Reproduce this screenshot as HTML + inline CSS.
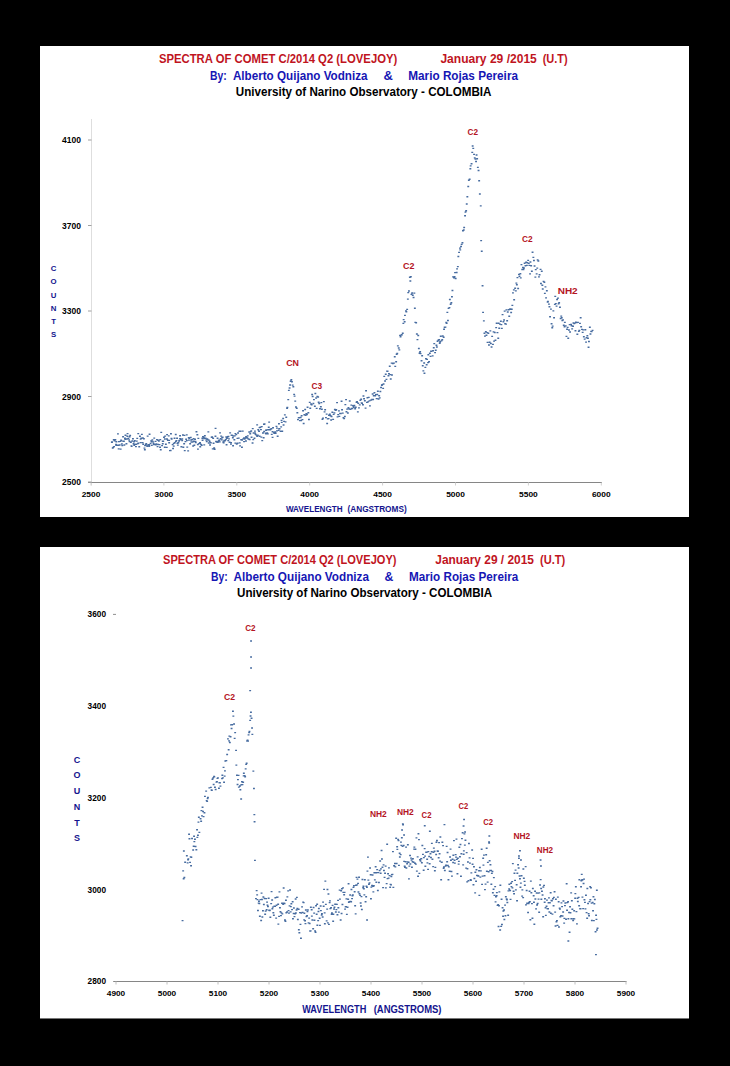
<!DOCTYPE html>
<html><head><meta charset="utf-8"><style>
html,body{margin:0;padding:0;background:#000;width:730px;height:1066px;overflow:hidden}
svg{display:block}
text{font-family:"Liberation Sans",sans-serif}
.t{stroke-width:0.35px}
</style></head><body>
<svg width="730" height="1066" viewBox="0 0 730 1066">
<rect width="730" height="1066" fill="#000"/>
<rect x="40" y="46" width="649" height="471" fill="#fff"/>
<rect x="40" y="547" width="649" height="471" fill="#fff"/>
<rect x="40" y="1018" width="649" height="1" fill="#777"/>
<text x="158.9" y="62.5" font-size="12.2" fill="#c0141e" font-weight="bold" text-anchor="start" textLength="238.4" lengthAdjust="spacingAndGlyphs">SPECTRA OF COMET C/2014 Q2 (LOVEJOY)</text>
<text x="440.4" y="62.5" font-size="12.2" fill="#c0141e" font-weight="bold" text-anchor="start" textLength="96.4" lengthAdjust="spacingAndGlyphs">January 29 /2015</text>
<text x="542.7" y="62.5" font-size="12.2" fill="#c0141e" font-weight="bold" text-anchor="start" textLength="25.0" lengthAdjust="spacingAndGlyphs">(U.T)</text>
<text x="210.0" y="79.7" font-size="12.2" fill="#1616b4" font-weight="bold" text-anchor="start" textLength="16.7" lengthAdjust="spacingAndGlyphs">By:</text>
<text x="232.9" y="79.7" font-size="12.2" fill="#1616b4" font-weight="bold" text-anchor="start" textLength="134.6" lengthAdjust="spacingAndGlyphs">Alberto Quijano Vodniza</text>
<text x="383.6" y="79.7" font-size="12.2" fill="#1616b4" font-weight="bold" text-anchor="start" textLength="9.4" lengthAdjust="spacingAndGlyphs">&amp;</text>
<text x="408.3" y="79.7" font-size="12.2" fill="#1616b4" font-weight="bold" text-anchor="start" textLength="109.7" lengthAdjust="spacingAndGlyphs">Mario Rojas Pereira</text>
<text x="235.8" y="96.0" font-size="12.2" fill="#000" font-weight="bold" text-anchor="start" textLength="255.6" lengthAdjust="spacingAndGlyphs">University of Narino Observatory - COLOMBIA</text>
<line x1="91.5" y1="119" x2="91.5" y2="485.5" stroke="#dedede" stroke-width="1"/>
<line x1="88" y1="482.5" x2="602" y2="482.5" stroke="#868686" stroke-width="1"/>
<line x1="88" y1="140.0" x2="91.5" y2="140.0" stroke="#a0a0a0" stroke-width="1"/>
<text x="81.0" y="143.0" font-size="8.5" fill="#000" font-weight="bold" text-anchor="end" textLength="18.9" lengthAdjust="spacingAndGlyphs">4100</text>
<line x1="88" y1="225.5" x2="91.5" y2="225.5" stroke="#a0a0a0" stroke-width="1"/>
<text x="81.0" y="228.5" font-size="8.5" fill="#000" font-weight="bold" text-anchor="end" textLength="18.9" lengthAdjust="spacingAndGlyphs">3700</text>
<line x1="88" y1="311.0" x2="91.5" y2="311.0" stroke="#a0a0a0" stroke-width="1"/>
<text x="81.0" y="314.0" font-size="8.5" fill="#000" font-weight="bold" text-anchor="end" textLength="18.9" lengthAdjust="spacingAndGlyphs">3300</text>
<line x1="88" y1="396.5" x2="91.5" y2="396.5" stroke="#a0a0a0" stroke-width="1"/>
<text x="81.0" y="399.5" font-size="8.5" fill="#000" font-weight="bold" text-anchor="end" textLength="18.9" lengthAdjust="spacingAndGlyphs">2900</text>
<line x1="88" y1="482.0" x2="91.5" y2="482.0" stroke="#a0a0a0" stroke-width="1"/>
<text x="81.0" y="485.0" font-size="8.5" fill="#000" font-weight="bold" text-anchor="end" textLength="18.9" lengthAdjust="spacingAndGlyphs">2500</text>
<line x1="91.0" y1="482.5" x2="91.0" y2="485.5" stroke="#d0d0d0" stroke-width="1"/>
<text x="91.0" y="496.8" font-size="8.0" fill="#000" font-weight="bold" text-anchor="middle" textLength="18.7" lengthAdjust="spacingAndGlyphs">2500</text>
<line x1="163.9" y1="482.5" x2="163.9" y2="485.5" stroke="#d0d0d0" stroke-width="1"/>
<text x="163.9" y="496.8" font-size="8.0" fill="#000" font-weight="bold" text-anchor="middle" textLength="18.7" lengthAdjust="spacingAndGlyphs">3000</text>
<line x1="236.8" y1="482.5" x2="236.8" y2="485.5" stroke="#d0d0d0" stroke-width="1"/>
<text x="236.8" y="496.8" font-size="8.0" fill="#000" font-weight="bold" text-anchor="middle" textLength="18.7" lengthAdjust="spacingAndGlyphs">3500</text>
<line x1="309.7" y1="482.5" x2="309.7" y2="485.5" stroke="#d0d0d0" stroke-width="1"/>
<text x="309.7" y="496.8" font-size="8.0" fill="#000" font-weight="bold" text-anchor="middle" textLength="18.7" lengthAdjust="spacingAndGlyphs">4000</text>
<line x1="382.6" y1="482.5" x2="382.6" y2="485.5" stroke="#d0d0d0" stroke-width="1"/>
<text x="382.6" y="496.8" font-size="8.0" fill="#000" font-weight="bold" text-anchor="middle" textLength="18.7" lengthAdjust="spacingAndGlyphs">4500</text>
<line x1="455.5" y1="482.5" x2="455.5" y2="485.5" stroke="#d0d0d0" stroke-width="1"/>
<text x="455.5" y="496.8" font-size="8.0" fill="#000" font-weight="bold" text-anchor="middle" textLength="18.7" lengthAdjust="spacingAndGlyphs">5000</text>
<line x1="528.4" y1="482.5" x2="528.4" y2="485.5" stroke="#d0d0d0" stroke-width="1"/>
<text x="528.4" y="496.8" font-size="8.0" fill="#000" font-weight="bold" text-anchor="middle" textLength="18.7" lengthAdjust="spacingAndGlyphs">5500</text>
<line x1="601.3" y1="482.5" x2="601.3" y2="485.5" stroke="#d0d0d0" stroke-width="1"/>
<text x="601.3" y="496.8" font-size="8.0" fill="#000" font-weight="bold" text-anchor="middle" textLength="18.7" lengthAdjust="spacingAndGlyphs">6000</text>
<text x="285.9" y="512.0" font-size="8.6" fill="#14148e" font-weight="bold" text-anchor="start" textLength="56.7" lengthAdjust="spacingAndGlyphs">WAVELENGTH</text>
<text x="347.5" y="512.0" font-size="8.6" fill="#14148e" font-weight="bold" text-anchor="start" textLength="59.2" lengthAdjust="spacingAndGlyphs">(ANGSTROMS)</text>
<text x="53.6" y="271.1" font-size="7.8" fill="#14148e" font-weight="bold" text-anchor="middle">C</text>
<text x="53.6" y="284.3" font-size="7.8" fill="#14148e" font-weight="bold" text-anchor="middle">O</text>
<text x="53.6" y="297.5" font-size="7.8" fill="#14148e" font-weight="bold" text-anchor="middle">U</text>
<text x="53.6" y="310.7" font-size="7.8" fill="#14148e" font-weight="bold" text-anchor="middle">N</text>
<text x="53.6" y="323.9" font-size="7.8" fill="#14148e" font-weight="bold" text-anchor="middle">T</text>
<text x="53.6" y="337.1" font-size="7.8" fill="#14148e" font-weight="bold" text-anchor="middle">S</text>
<text x="286.2" y="366.0" font-size="9.9" fill="#b41424" font-weight="bold" text-anchor="start" textLength="12.8" lengthAdjust="spacingAndGlyphs">CN</text>
<text x="311.4" y="389.3" font-size="9.9" fill="#b41424" font-weight="bold" text-anchor="start" textLength="10.6" lengthAdjust="spacingAndGlyphs">C3</text>
<text x="403.0" y="268.9" font-size="9.9" fill="#b41424" font-weight="bold" text-anchor="start" textLength="11.4" lengthAdjust="spacingAndGlyphs">C2</text>
<text x="467.5" y="135.0" font-size="9.9" fill="#b41424" font-weight="bold" text-anchor="start" textLength="10.5" lengthAdjust="spacingAndGlyphs">C2</text>
<text x="521.9" y="242.0" font-size="9.9" fill="#b41424" font-weight="bold" text-anchor="start" textLength="10.6" lengthAdjust="spacingAndGlyphs">C2</text>
<text x="557.7" y="293.9" font-size="9.9" fill="#b41424" font-weight="bold" text-anchor="start" textLength="20.0" lengthAdjust="spacingAndGlyphs">NH2</text>
<path d="M110.9 441.5h1.9v1.4h-1.9zM111.8 447.3h1.9v1.4h-1.9zM112.3 446.7h1.9v1.4h-1.9zM112.8 439.1h1.9v1.4h-1.9zM113.6 440.0h1.9v1.4h-1.9zM114.4 439.0h1.9v1.4h-1.9zM115.1 443.8h1.9v1.4h-1.9zM115.4 441.1h1.9v1.4h-1.9zM116.1 444.6h1.9v1.4h-1.9zM117.0 433.2h1.9v1.4h-1.9zM117.7 448.2h1.9v1.4h-1.9zM118.0 440.9h1.9v1.4h-1.9zM118.7 444.3h1.9v1.4h-1.9zM119.6 440.7h1.9v1.4h-1.9zM120.2 439.6h1.9v1.4h-1.9zM120.9 443.3h1.9v1.4h-1.9zM121.3 444.9h1.9v1.4h-1.9zM122.1 440.4h1.9v1.4h-1.9zM122.9 440.6h1.9v1.4h-1.9zM123.4 444.3h1.9v1.4h-1.9zM124.0 437.5h1.9v1.4h-1.9zM124.5 434.6h1.9v1.4h-1.9zM125.5 443.0h1.9v1.4h-1.9zM126.0 438.3h1.9v1.4h-1.9zM126.6 432.9h1.9v1.4h-1.9zM127.4 437.7h1.9v1.4h-1.9zM128.1 439.2h1.9v1.4h-1.9zM128.7 436.0h1.9v1.4h-1.9zM129.2 434.7h1.9v1.4h-1.9zM129.9 441.5h1.9v1.4h-1.9zM130.5 445.2h1.9v1.4h-1.9zM131.3 440.3h1.9v1.4h-1.9zM132.0 438.0h1.9v1.4h-1.9zM132.6 443.0h1.9v1.4h-1.9zM133.3 444.5h1.9v1.4h-1.9zM133.8 440.0h1.9v1.4h-1.9zM134.5 443.7h1.9v1.4h-1.9zM135.0 445.9h1.9v1.4h-1.9zM135.8 440.4h1.9v1.4h-1.9zM136.3 437.7h1.9v1.4h-1.9zM137.1 442.8h1.9v1.4h-1.9zM137.5 442.4h1.9v1.4h-1.9zM138.3 446.1h1.9v1.4h-1.9zM139.0 435.6h1.9v1.4h-1.9zM139.7 438.4h1.9v1.4h-1.9zM140.3 437.6h1.9v1.4h-1.9zM140.9 433.7h1.9v1.4h-1.9zM141.7 441.9h1.9v1.4h-1.9zM142.3 443.6h1.9v1.4h-1.9zM142.9 438.0h1.9v1.4h-1.9zM143.5 447.4h1.9v1.4h-1.9zM144.1 444.9h1.9v1.4h-1.9zM144.9 444.1h1.9v1.4h-1.9zM145.3 443.1h1.9v1.4h-1.9zM146.3 445.5h1.9v1.4h-1.9zM146.7 435.4h1.9v1.4h-1.9zM147.4 444.0h1.9v1.4h-1.9zM148.1 444.0h1.9v1.4h-1.9zM148.6 433.5h1.9v1.4h-1.9zM149.6 442.8h1.9v1.4h-1.9zM150.2 440.2h1.9v1.4h-1.9zM150.8 444.7h1.9v1.4h-1.9zM151.4 439.3h1.9v1.4h-1.9zM152.2 441.2h1.9v1.4h-1.9zM152.6 442.7h1.9v1.4h-1.9zM153.3 437.4h1.9v1.4h-1.9zM153.8 443.8h1.9v1.4h-1.9zM154.6 440.7h1.9v1.4h-1.9zM155.4 443.3h1.9v1.4h-1.9zM156.0 438.9h1.9v1.4h-1.9zM156.6 445.9h1.9v1.4h-1.9zM157.2 443.8h1.9v1.4h-1.9zM157.9 440.3h1.9v1.4h-1.9zM158.5 443.9h1.9v1.4h-1.9zM159.1 446.6h1.9v1.4h-1.9zM159.8 449.0h1.9v1.4h-1.9zM160.3 431.7h1.9v1.4h-1.9zM161.1 444.9h1.9v1.4h-1.9zM161.8 443.1h1.9v1.4h-1.9zM162.3 440.6h1.9v1.4h-1.9zM163.0 436.6h1.9v1.4h-1.9zM163.8 446.5h1.9v1.4h-1.9zM164.2 435.4h1.9v1.4h-1.9zM164.9 443.5h1.9v1.4h-1.9zM165.8 446.7h1.9v1.4h-1.9zM166.1 433.9h1.9v1.4h-1.9zM166.9 439.6h1.9v1.4h-1.9zM167.8 435.2h1.9v1.4h-1.9zM168.2 442.0h1.9v1.4h-1.9zM169.0 449.9h1.9v1.4h-1.9zM169.7 449.8h1.9v1.4h-1.9zM170.0 433.1h1.9v1.4h-1.9zM170.7 438.3h1.9v1.4h-1.9zM171.7 443.9h1.9v1.4h-1.9zM172.1 447.8h1.9v1.4h-1.9zM172.8 442.7h1.9v1.4h-1.9zM173.6 437.5h1.9v1.4h-1.9zM173.9 442.1h1.9v1.4h-1.9zM174.9 440.7h1.9v1.4h-1.9zM175.5 439.9h1.9v1.4h-1.9zM176.1 437.5h1.9v1.4h-1.9zM176.5 442.5h1.9v1.4h-1.9zM177.4 442.1h1.9v1.4h-1.9zM178.1 440.3h1.9v1.4h-1.9zM178.6 439.7h1.9v1.4h-1.9zM179.1 435.0h1.9v1.4h-1.9zM179.8 438.5h1.9v1.4h-1.9zM180.4 446.0h1.9v1.4h-1.9zM181.2 439.8h1.9v1.4h-1.9zM182.0 434.3h1.9v1.4h-1.9zM182.4 446.5h1.9v1.4h-1.9zM183.2 443.0h1.9v1.4h-1.9zM183.8 449.9h1.9v1.4h-1.9zM184.5 440.9h1.9v1.4h-1.9zM185.2 438.5h1.9v1.4h-1.9zM185.8 434.2h1.9v1.4h-1.9zM186.3 446.4h1.9v1.4h-1.9zM187.2 450.2h1.9v1.4h-1.9zM187.8 436.9h1.9v1.4h-1.9zM188.3 437.7h1.9v1.4h-1.9zM189.2 443.1h1.9v1.4h-1.9zM189.8 436.8h1.9v1.4h-1.9zM190.2 439.3h1.9v1.4h-1.9zM191.2 438.9h1.9v1.4h-1.9zM191.7 441.3h1.9v1.4h-1.9zM192.2 445.3h1.9v1.4h-1.9zM192.8 440.6h1.9v1.4h-1.9zM193.4 444.5h1.9v1.4h-1.9zM194.1 438.5h1.9v1.4h-1.9zM194.8 441.8h1.9v1.4h-1.9zM195.5 431.0h1.9v1.4h-1.9zM196.4 434.0h1.9v1.4h-1.9zM196.9 443.8h1.9v1.4h-1.9zM197.4 437.7h1.9v1.4h-1.9zM198.1 442.9h1.9v1.4h-1.9zM198.8 442.7h1.9v1.4h-1.9zM199.3 446.1h1.9v1.4h-1.9zM200.1 443.8h1.9v1.4h-1.9zM200.8 444.6h1.9v1.4h-1.9zM201.6 439.6h1.9v1.4h-1.9zM202.0 435.9h1.9v1.4h-1.9zM202.8 436.8h1.9v1.4h-1.9zM203.4 437.8h1.9v1.4h-1.9zM203.9 435.0h1.9v1.4h-1.9zM204.7 437.5h1.9v1.4h-1.9zM205.3 439.4h1.9v1.4h-1.9zM205.8 440.9h1.9v1.4h-1.9zM206.4 438.2h1.9v1.4h-1.9zM207.4 431.2h1.9v1.4h-1.9zM207.7 439.3h1.9v1.4h-1.9zM208.7 440.6h1.9v1.4h-1.9zM209.1 444.3h1.9v1.4h-1.9zM209.7 442.0h1.9v1.4h-1.9zM210.7 436.6h1.9v1.4h-1.9zM211.2 436.2h1.9v1.4h-1.9zM211.8 448.2h1.9v1.4h-1.9zM212.6 442.6h1.9v1.4h-1.9zM213.2 447.3h1.9v1.4h-1.9zM213.7 448.6h1.9v1.4h-1.9zM214.5 435.5h1.9v1.4h-1.9zM215.1 440.8h1.9v1.4h-1.9zM215.6 441.1h1.9v1.4h-1.9zM216.4 441.5h1.9v1.4h-1.9zM217.2 441.3h1.9v1.4h-1.9zM217.7 439.8h1.9v1.4h-1.9zM218.4 439.6h1.9v1.4h-1.9zM219.1 432.2h1.9v1.4h-1.9zM219.7 438.0h1.9v1.4h-1.9zM220.2 435.4h1.9v1.4h-1.9zM220.9 439.2h1.9v1.4h-1.9zM221.7 436.6h1.9v1.4h-1.9zM222.3 441.3h1.9v1.4h-1.9zM222.7 442.1h1.9v1.4h-1.9zM223.3 439.8h1.9v1.4h-1.9zM224.1 439.8h1.9v1.4h-1.9zM224.9 438.8h1.9v1.4h-1.9zM225.3 436.3h1.9v1.4h-1.9zM226.0 437.5h1.9v1.4h-1.9zM226.9 436.0h1.9v1.4h-1.9zM227.3 439.9h1.9v1.4h-1.9zM228.0 438.2h1.9v1.4h-1.9zM228.6 441.5h1.9v1.4h-1.9zM229.2 432.2h1.9v1.4h-1.9zM230.1 441.9h1.9v1.4h-1.9zM230.6 434.6h1.9v1.4h-1.9zM231.3 434.7h1.9v1.4h-1.9zM231.9 437.0h1.9v1.4h-1.9zM232.4 435.3h1.9v1.4h-1.9zM233.4 439.0h1.9v1.4h-1.9zM233.8 435.2h1.9v1.4h-1.9zM234.5 432.9h1.9v1.4h-1.9zM235.3 433.9h1.9v1.4h-1.9zM235.8 443.3h1.9v1.4h-1.9zM236.5 437.7h1.9v1.4h-1.9zM237.1 432.3h1.9v1.4h-1.9zM237.8 437.4h1.9v1.4h-1.9zM238.4 430.5h1.9v1.4h-1.9zM239.1 445.2h1.9v1.4h-1.9zM239.6 430.5h1.9v1.4h-1.9zM240.2 439.1h1.9v1.4h-1.9zM241.1 439.3h1.9v1.4h-1.9zM241.8 430.4h1.9v1.4h-1.9zM242.5 438.0h1.9v1.4h-1.9zM243.1 440.9h1.9v1.4h-1.9zM243.7 438.4h1.9v1.4h-1.9zM244.4 437.4h1.9v1.4h-1.9zM245.0 440.3h1.9v1.4h-1.9zM245.7 436.7h1.9v1.4h-1.9zM246.4 437.3h1.9v1.4h-1.9zM246.8 435.2h1.9v1.4h-1.9zM247.5 438.4h1.9v1.4h-1.9zM248.3 431.3h1.9v1.4h-1.9zM248.7 438.8h1.9v1.4h-1.9zM249.3 433.0h1.9v1.4h-1.9zM250.3 430.3h1.9v1.4h-1.9zM250.6 436.6h1.9v1.4h-1.9zM251.6 442.3h1.9v1.4h-1.9zM252.3 438.9h1.9v1.4h-1.9zM252.6 432.3h1.9v1.4h-1.9zM253.5 437.5h1.9v1.4h-1.9zM254.0 432.3h1.9v1.4h-1.9zM254.6 433.6h1.9v1.4h-1.9zM255.5 434.4h1.9v1.4h-1.9zM256.2 424.2h1.9v1.4h-1.9zM256.8 434.6h1.9v1.4h-1.9zM257.3 429.1h1.9v1.4h-1.9zM258.1 430.5h1.9v1.4h-1.9zM258.6 426.9h1.9v1.4h-1.9zM259.4 426.6h1.9v1.4h-1.9zM260.0 428.9h1.9v1.4h-1.9zM260.4 436.4h1.9v1.4h-1.9zM261.3 439.9h1.9v1.4h-1.9zM262.0 432.3h1.9v1.4h-1.9zM262.7 437.0h1.9v1.4h-1.9zM263.2 430.8h1.9v1.4h-1.9zM263.6 423.3h1.9v1.4h-1.9zM264.6 432.4h1.9v1.4h-1.9zM265.1 433.2h1.9v1.4h-1.9zM265.6 429.2h1.9v1.4h-1.9zM266.3 432.2h1.9v1.4h-1.9zM266.9 433.2h1.9v1.4h-1.9zM267.8 426.6h1.9v1.4h-1.9zM268.2 421.4h1.9v1.4h-1.9zM269.2 429.0h1.9v1.4h-1.9zM269.5 428.8h1.9v1.4h-1.9zM270.4 428.0h1.9v1.4h-1.9zM270.8 433.7h1.9v1.4h-1.9zM271.6 436.7h1.9v1.4h-1.9zM272.1 427.1h1.9v1.4h-1.9zM273.1 431.8h1.9v1.4h-1.9zM273.4 432.6h1.9v1.4h-1.9zM274.2 431.3h1.9v1.4h-1.9zM274.9 432.4h1.9v1.4h-1.9zM275.5 425.7h1.9v1.4h-1.9zM276.0 430.2h1.9v1.4h-1.9zM276.7 435.5h1.9v1.4h-1.9zM277.6 429.7h1.9v1.4h-1.9zM278.0 423.0h1.9v1.4h-1.9zM278.6 428.0h1.9v1.4h-1.9zM279.6 430.5h1.9v1.4h-1.9zM280.2 426.2h1.9v1.4h-1.9zM280.8 421.7h1.9v1.4h-1.9zM281.3 430.5h1.9v1.4h-1.9zM282.2 417.8h1.9v1.4h-1.9zM282.6 424.3h1.9v1.4h-1.9zM283.1 420.7h1.9v1.4h-1.9zM283.9 414.2h1.9v1.4h-1.9zM284.6 421.2h1.9v1.4h-1.9zM285.3 416.6h1.9v1.4h-1.9zM286.1 407.6h1.9v1.4h-1.9zM286.4 406.8h1.9v1.4h-1.9zM287.3 398.9h1.9v1.4h-1.9zM287.9 389.7h1.9v1.4h-1.9zM288.6 387.3h1.9v1.4h-1.9zM289.1 384.3h1.9v1.4h-1.9zM289.7 380.6h1.9v1.4h-1.9zM290.4 379.1h1.9v1.4h-1.9zM291.0 381.1h1.9v1.4h-1.9zM291.7 384.4h1.9v1.4h-1.9zM292.4 386.0h1.9v1.4h-1.9zM293.2 393.7h1.9v1.4h-1.9zM293.6 395.4h1.9v1.4h-1.9zM294.3 400.4h1.9v1.4h-1.9zM295.0 406.3h1.9v1.4h-1.9zM295.8 407.5h1.9v1.4h-1.9zM296.4 412.0h1.9v1.4h-1.9zM297.0 418.9h1.9v1.4h-1.9zM297.7 417.2h1.9v1.4h-1.9zM298.2 417.0h1.9v1.4h-1.9zM299.0 419.9h1.9v1.4h-1.9zM299.7 416.8h1.9v1.4h-1.9zM300.2 419.8h1.9v1.4h-1.9zM300.7 415.1h1.9v1.4h-1.9zM301.5 418.9h1.9v1.4h-1.9zM302.1 410.1h1.9v1.4h-1.9zM302.7 422.8h1.9v1.4h-1.9zM303.4 414.1h1.9v1.4h-1.9zM304.2 408.8h1.9v1.4h-1.9zM304.7 414.5h1.9v1.4h-1.9zM305.4 412.9h1.9v1.4h-1.9zM306.0 413.8h1.9v1.4h-1.9zM306.6 406.6h1.9v1.4h-1.9zM307.4 412.1h1.9v1.4h-1.9zM308.0 418.8h1.9v1.4h-1.9zM308.8 401.7h1.9v1.4h-1.9zM309.3 407.6h1.9v1.4h-1.9zM310.1 403.3h1.9v1.4h-1.9zM310.7 404.1h1.9v1.4h-1.9zM311.2 393.8h1.9v1.4h-1.9zM311.7 395.8h1.9v1.4h-1.9zM312.4 402.8h1.9v1.4h-1.9zM313.0 398.9h1.9v1.4h-1.9zM313.9 405.5h1.9v1.4h-1.9zM314.4 392.8h1.9v1.4h-1.9zM315.2 397.3h1.9v1.4h-1.9zM315.7 407.7h1.9v1.4h-1.9zM316.4 395.7h1.9v1.4h-1.9zM317.2 396.3h1.9v1.4h-1.9zM317.7 401.5h1.9v1.4h-1.9zM318.3 402.8h1.9v1.4h-1.9zM319.0 408.1h1.9v1.4h-1.9zM319.9 406.0h1.9v1.4h-1.9zM320.4 401.9h1.9v1.4h-1.9zM320.9 408.5h1.9v1.4h-1.9zM321.5 418.5h1.9v1.4h-1.9zM322.1 417.4h1.9v1.4h-1.9zM322.9 400.9h1.9v1.4h-1.9zM323.6 411.2h1.9v1.4h-1.9zM324.2 409.0h1.9v1.4h-1.9zM325.0 416.9h1.9v1.4h-1.9zM325.7 413.4h1.9v1.4h-1.9zM326.2 422.8h1.9v1.4h-1.9zM326.8 418.2h1.9v1.4h-1.9zM327.6 417.9h1.9v1.4h-1.9zM328.0 414.6h1.9v1.4h-1.9zM328.9 413.5h1.9v1.4h-1.9zM329.6 415.1h1.9v1.4h-1.9zM330.2 419.3h1.9v1.4h-1.9zM330.6 415.8h1.9v1.4h-1.9zM331.4 411.6h1.9v1.4h-1.9zM332.2 418.7h1.9v1.4h-1.9zM332.7 413.7h1.9v1.4h-1.9zM333.5 412.2h1.9v1.4h-1.9zM333.9 408.8h1.9v1.4h-1.9zM334.7 409.6h1.9v1.4h-1.9zM335.3 409.1h1.9v1.4h-1.9zM336.1 401.9h1.9v1.4h-1.9zM336.6 416.2h1.9v1.4h-1.9zM337.2 413.9h1.9v1.4h-1.9zM338.0 410.2h1.9v1.4h-1.9zM338.4 415.7h1.9v1.4h-1.9zM339.1 412.8h1.9v1.4h-1.9zM339.8 412.8h1.9v1.4h-1.9zM340.6 400.5h1.9v1.4h-1.9zM341.1 409.1h1.9v1.4h-1.9zM341.8 412.4h1.9v1.4h-1.9zM342.5 417.0h1.9v1.4h-1.9zM343.2 417.9h1.9v1.4h-1.9zM343.9 415.8h1.9v1.4h-1.9zM344.4 403.9h1.9v1.4h-1.9zM345.1 398.9h1.9v1.4h-1.9zM345.5 411.1h1.9v1.4h-1.9zM346.2 408.4h1.9v1.4h-1.9zM346.9 412.3h1.9v1.4h-1.9zM347.5 407.1h1.9v1.4h-1.9zM348.3 408.3h1.9v1.4h-1.9zM348.8 400.3h1.9v1.4h-1.9zM349.6 408.7h1.9v1.4h-1.9zM350.4 404.4h1.9v1.4h-1.9zM350.7 407.7h1.9v1.4h-1.9zM351.4 407.9h1.9v1.4h-1.9zM352.2 405.0h1.9v1.4h-1.9zM352.7 406.6h1.9v1.4h-1.9zM353.4 404.8h1.9v1.4h-1.9zM354.2 408.0h1.9v1.4h-1.9zM354.8 406.5h1.9v1.4h-1.9zM355.6 401.5h1.9v1.4h-1.9zM356.1 401.0h1.9v1.4h-1.9zM356.9 411.2h1.9v1.4h-1.9zM357.3 402.6h1.9v1.4h-1.9zM358.0 407.2h1.9v1.4h-1.9zM358.8 404.2h1.9v1.4h-1.9zM359.4 399.6h1.9v1.4h-1.9zM360.2 398.6h1.9v1.4h-1.9zM360.6 402.2h1.9v1.4h-1.9zM361.1 402.6h1.9v1.4h-1.9zM362.0 404.0h1.9v1.4h-1.9zM362.5 395.3h1.9v1.4h-1.9zM363.1 398.0h1.9v1.4h-1.9zM363.9 400.1h1.9v1.4h-1.9zM364.6 407.4h1.9v1.4h-1.9zM365.1 390.1h1.9v1.4h-1.9zM366.0 401.7h1.9v1.4h-1.9zM366.5 397.1h1.9v1.4h-1.9zM367.1 401.2h1.9v1.4h-1.9zM367.8 396.7h1.9v1.4h-1.9zM368.5 400.2h1.9v1.4h-1.9zM369.0 405.2h1.9v1.4h-1.9zM369.8 399.4h1.9v1.4h-1.9zM370.3 399.4h1.9v1.4h-1.9zM371.2 398.8h1.9v1.4h-1.9zM371.7 393.3h1.9v1.4h-1.9zM372.2 398.8h1.9v1.4h-1.9zM372.8 395.1h1.9v1.4h-1.9zM373.5 392.0h1.9v1.4h-1.9zM374.2 395.1h1.9v1.4h-1.9zM375.0 393.9h1.9v1.4h-1.9zM375.7 397.9h1.9v1.4h-1.9zM376.3 393.8h1.9v1.4h-1.9zM376.9 390.5h1.9v1.4h-1.9zM377.6 398.3h1.9v1.4h-1.9zM378.2 395.1h1.9v1.4h-1.9zM378.8 397.2h1.9v1.4h-1.9zM379.4 390.8h1.9v1.4h-1.9zM380.1 386.8h1.9v1.4h-1.9zM380.9 384.5h1.9v1.4h-1.9zM381.3 383.9h1.9v1.4h-1.9zM382.2 387.7h1.9v1.4h-1.9zM382.6 383.3h1.9v1.4h-1.9zM383.3 375.7h1.9v1.4h-1.9zM384.1 380.3h1.9v1.4h-1.9zM384.8 373.6h1.9v1.4h-1.9zM385.5 378.7h1.9v1.4h-1.9zM386.1 370.4h1.9v1.4h-1.9zM386.6 370.6h1.9v1.4h-1.9zM387.5 375.0h1.9v1.4h-1.9zM388.0 373.0h1.9v1.4h-1.9zM388.8 365.5h1.9v1.4h-1.9zM389.4 373.9h1.9v1.4h-1.9zM389.8 378.3h1.9v1.4h-1.9zM390.7 362.4h1.9v1.4h-1.9zM391.0 374.3h1.9v1.4h-1.9zM391.9 362.9h1.9v1.4h-1.9zM392.4 362.4h1.9v1.4h-1.9zM393.0 362.4h1.9v1.4h-1.9zM393.8 356.0h1.9v1.4h-1.9zM394.3 365.7h1.9v1.4h-1.9zM395.2 361.1h1.9v1.4h-1.9zM395.7 353.5h1.9v1.4h-1.9zM396.3 352.8h1.9v1.4h-1.9zM396.9 345.2h1.9v1.4h-1.9zM397.8 347.3h1.9v1.4h-1.9zM398.4 349.2h1.9v1.4h-1.9zM399.1 334.7h1.9v1.4h-1.9zM399.6 336.0h1.9v1.4h-1.9zM400.5 334.4h1.9v1.4h-1.9zM400.8 334.1h1.9v1.4h-1.9zM401.8 332.5h1.9v1.4h-1.9zM402.4 322.7h1.9v1.4h-1.9zM402.7 318.9h1.9v1.4h-1.9zM403.7 321.1h1.9v1.4h-1.9zM404.0 314.7h1.9v1.4h-1.9zM405.0 310.2h1.9v1.4h-1.9zM405.4 311.0h1.9v1.4h-1.9zM406.2 308.7h1.9v1.4h-1.9zM406.9 298.4h1.9v1.4h-1.9zM407.3 291.9h1.9v1.4h-1.9zM408.0 290.3h1.9v1.4h-1.9zM408.9 276.6h1.9v1.4h-1.9zM409.4 280.3h1.9v1.4h-1.9zM409.9 276.1h1.9v1.4h-1.9zM410.5 293.7h1.9v1.4h-1.9zM411.2 292.3h1.9v1.4h-1.9zM411.8 294.5h1.9v1.4h-1.9zM412.6 296.8h1.9v1.4h-1.9zM413.4 292.4h1.9v1.4h-1.9zM413.9 307.6h1.9v1.4h-1.9zM414.4 321.7h1.9v1.4h-1.9zM415.2 322.1h1.9v1.4h-1.9zM415.9 333.3h1.9v1.4h-1.9zM416.5 338.9h1.9v1.4h-1.9zM417.3 334.8h1.9v1.4h-1.9zM417.9 347.8h1.9v1.4h-1.9zM418.6 352.5h1.9v1.4h-1.9zM419.2 351.0h1.9v1.4h-1.9zM419.6 352.9h1.9v1.4h-1.9zM420.6 360.1h1.9v1.4h-1.9zM421.2 355.1h1.9v1.4h-1.9zM421.8 365.1h1.9v1.4h-1.9zM422.4 370.2h1.9v1.4h-1.9zM423.2 362.3h1.9v1.4h-1.9zM423.5 372.6h1.9v1.4h-1.9zM424.4 366.7h1.9v1.4h-1.9zM425.0 358.1h1.9v1.4h-1.9zM425.7 364.1h1.9v1.4h-1.9zM426.1 358.7h1.9v1.4h-1.9zM427.1 361.9h1.9v1.4h-1.9zM427.4 354.0h1.9v1.4h-1.9zM428.1 361.1h1.9v1.4h-1.9zM428.9 352.6h1.9v1.4h-1.9zM429.6 355.7h1.9v1.4h-1.9zM430.1 350.6h1.9v1.4h-1.9zM430.8 350.4h1.9v1.4h-1.9zM431.7 355.2h1.9v1.4h-1.9zM432.1 350.1h1.9v1.4h-1.9zM432.8 347.0h1.9v1.4h-1.9zM433.3 342.9h1.9v1.4h-1.9zM434.1 351.9h1.9v1.4h-1.9zM434.8 349.5h1.9v1.4h-1.9zM435.5 344.6h1.9v1.4h-1.9zM435.9 346.3h1.9v1.4h-1.9zM436.6 340.5h1.9v1.4h-1.9zM437.4 339.6h1.9v1.4h-1.9zM438.2 339.1h1.9v1.4h-1.9zM438.8 342.5h1.9v1.4h-1.9zM439.2 341.0h1.9v1.4h-1.9zM439.8 335.5h1.9v1.4h-1.9zM440.5 340.2h1.9v1.4h-1.9zM441.3 339.0h1.9v1.4h-1.9zM441.8 335.3h1.9v1.4h-1.9zM442.7 336.5h1.9v1.4h-1.9zM443.1 328.6h1.9v1.4h-1.9zM443.7 326.6h1.9v1.4h-1.9zM444.5 326.4h1.9v1.4h-1.9zM445.3 321.8h1.9v1.4h-1.9zM445.7 322.5h1.9v1.4h-1.9zM446.4 311.7h1.9v1.4h-1.9zM447.0 319.8h1.9v1.4h-1.9zM447.6 307.7h1.9v1.4h-1.9zM448.5 306.9h1.9v1.4h-1.9zM448.9 298.8h1.9v1.4h-1.9zM449.7 303.5h1.9v1.4h-1.9zM450.4 302.0h1.9v1.4h-1.9zM451.0 296.0h1.9v1.4h-1.9zM451.5 289.8h1.9v1.4h-1.9zM452.1 276.2h1.9v1.4h-1.9zM453.0 277.0h1.9v1.4h-1.9zM453.6 276.0h1.9v1.4h-1.9zM454.1 271.9h1.9v1.4h-1.9zM454.7 277.8h1.9v1.4h-1.9zM455.7 271.8h1.9v1.4h-1.9zM456.1 268.2h1.9v1.4h-1.9zM456.9 265.9h1.9v1.4h-1.9zM457.4 255.8h1.9v1.4h-1.9zM458.1 251.7h1.9v1.4h-1.9zM459.0 247.4h1.9v1.4h-1.9zM459.3 249.2h1.9v1.4h-1.9zM460.1 245.8h1.9v1.4h-1.9zM460.7 243.7h1.9v1.4h-1.9zM461.5 242.1h1.9v1.4h-1.9zM462.0 230.0h1.9v1.4h-1.9zM462.8 229.3h1.9v1.4h-1.9zM463.2 226.8h1.9v1.4h-1.9zM464.1 215.1h1.9v1.4h-1.9zM464.5 211.4h1.9v1.4h-1.9zM465.2 210.1h1.9v1.4h-1.9zM465.8 203.3h1.9v1.4h-1.9zM466.4 196.0h1.9v1.4h-1.9zM467.3 185.8h1.9v1.4h-1.9zM467.9 179.5h1.9v1.4h-1.9zM468.7 178.6h1.9v1.4h-1.9zM469.4 168.1h1.9v1.4h-1.9zM469.7 165.2h1.9v1.4h-1.9zM470.6 163.1h1.9v1.4h-1.9zM471.3 151.7h1.9v1.4h-1.9zM471.7 145.3h1.9v1.4h-1.9zM472.3 147.7h1.9v1.4h-1.9zM473.1 153.7h1.9v1.4h-1.9zM473.8 157.2h1.9v1.4h-1.9zM474.5 158.4h1.9v1.4h-1.9zM475.1 160.8h1.9v1.4h-1.9zM475.6 154.3h1.9v1.4h-1.9zM476.2 158.0h1.9v1.4h-1.9zM476.9 166.7h1.9v1.4h-1.9zM477.6 169.8h1.9v1.4h-1.9zM478.2 180.1h1.9v1.4h-1.9zM478.9 193.3h1.9v1.4h-1.9zM479.8 205.2h1.9v1.4h-1.9zM480.2 239.9h1.9v1.4h-1.9zM480.8 250.6h1.9v1.4h-1.9zM481.6 285.1h1.9v1.4h-1.9zM482.1 311.7h1.9v1.4h-1.9zM482.9 320.2h1.9v1.4h-1.9zM483.5 332.5h1.9v1.4h-1.9zM484.0 335.4h1.9v1.4h-1.9zM484.9 331.1h1.9v1.4h-1.9zM485.5 334.5h1.9v1.4h-1.9zM486.3 331.9h1.9v1.4h-1.9zM486.6 341.7h1.9v1.4h-1.9zM487.4 332.5h1.9v1.4h-1.9zM488.0 344.3h1.9v1.4h-1.9zM488.7 341.6h1.9v1.4h-1.9zM489.4 330.2h1.9v1.4h-1.9zM489.9 342.8h1.9v1.4h-1.9zM490.6 346.3h1.9v1.4h-1.9zM491.2 335.7h1.9v1.4h-1.9zM492.0 343.7h1.9v1.4h-1.9zM492.6 331.2h1.9v1.4h-1.9zM493.1 340.4h1.9v1.4h-1.9zM493.8 331.8h1.9v1.4h-1.9zM494.5 339.6h1.9v1.4h-1.9zM495.2 326.9h1.9v1.4h-1.9zM495.7 322.6h1.9v1.4h-1.9zM496.5 331.9h1.9v1.4h-1.9zM497.3 337.6h1.9v1.4h-1.9zM497.7 322.6h1.9v1.4h-1.9zM498.3 327.5h1.9v1.4h-1.9zM499.0 323.4h1.9v1.4h-1.9zM499.9 320.6h1.9v1.4h-1.9zM500.4 323.9h1.9v1.4h-1.9zM500.9 327.7h1.9v1.4h-1.9zM501.6 313.9h1.9v1.4h-1.9zM502.5 321.1h1.9v1.4h-1.9zM503.1 319.3h1.9v1.4h-1.9zM503.7 310.4h1.9v1.4h-1.9zM504.2 323.1h1.9v1.4h-1.9zM505.1 323.4h1.9v1.4h-1.9zM505.5 309.2h1.9v1.4h-1.9zM506.2 320.1h1.9v1.4h-1.9zM506.8 311.3h1.9v1.4h-1.9zM507.7 309.1h1.9v1.4h-1.9zM508.3 315.5h1.9v1.4h-1.9zM508.9 308.5h1.9v1.4h-1.9zM509.5 308.3h1.9v1.4h-1.9zM510.2 311.8h1.9v1.4h-1.9zM510.8 308.6h1.9v1.4h-1.9zM511.4 304.7h1.9v1.4h-1.9zM512.0 292.2h1.9v1.4h-1.9zM512.9 289.2h1.9v1.4h-1.9zM513.2 299.1h1.9v1.4h-1.9zM514.2 287.6h1.9v1.4h-1.9zM514.9 290.2h1.9v1.4h-1.9zM515.4 282.4h1.9v1.4h-1.9zM515.9 284.1h1.9v1.4h-1.9zM516.5 276.9h1.9v1.4h-1.9zM517.2 287.8h1.9v1.4h-1.9zM518.0 273.7h1.9v1.4h-1.9zM518.5 275.6h1.9v1.4h-1.9zM519.4 273.1h1.9v1.4h-1.9zM519.8 277.2h1.9v1.4h-1.9zM520.5 263.9h1.9v1.4h-1.9zM521.3 268.8h1.9v1.4h-1.9zM522.0 266.8h1.9v1.4h-1.9zM522.5 268.8h1.9v1.4h-1.9zM523.0 267.3h1.9v1.4h-1.9zM523.7 262.5h1.9v1.4h-1.9zM524.5 265.0h1.9v1.4h-1.9zM525.2 261.6h1.9v1.4h-1.9zM525.9 264.7h1.9v1.4h-1.9zM526.4 262.0h1.9v1.4h-1.9zM527.2 259.7h1.9v1.4h-1.9zM527.8 262.7h1.9v1.4h-1.9zM528.4 264.7h1.9v1.4h-1.9zM529.1 273.2h1.9v1.4h-1.9zM529.5 261.3h1.9v1.4h-1.9zM530.2 265.1h1.9v1.4h-1.9zM530.9 270.5h1.9v1.4h-1.9zM531.6 251.5h1.9v1.4h-1.9zM532.4 256.7h1.9v1.4h-1.9zM533.0 259.8h1.9v1.4h-1.9zM533.6 265.3h1.9v1.4h-1.9zM534.4 276.4h1.9v1.4h-1.9zM534.8 268.9h1.9v1.4h-1.9zM535.7 273.2h1.9v1.4h-1.9zM536.3 267.4h1.9v1.4h-1.9zM536.7 259.2h1.9v1.4h-1.9zM537.4 260.3h1.9v1.4h-1.9zM538.0 276.2h1.9v1.4h-1.9zM538.6 274.0h1.9v1.4h-1.9zM539.6 268.7h1.9v1.4h-1.9zM540.0 282.8h1.9v1.4h-1.9zM540.8 270.6h1.9v1.4h-1.9zM541.4 284.5h1.9v1.4h-1.9zM541.8 288.3h1.9v1.4h-1.9zM542.6 280.7h1.9v1.4h-1.9zM543.4 281.6h1.9v1.4h-1.9zM543.9 292.7h1.9v1.4h-1.9zM544.5 286.2h1.9v1.4h-1.9zM545.1 297.2h1.9v1.4h-1.9zM545.9 290.1h1.9v1.4h-1.9zM546.7 301.3h1.9v1.4h-1.9zM547.0 300.8h1.9v1.4h-1.9zM548.0 303.4h1.9v1.4h-1.9zM548.5 306.1h1.9v1.4h-1.9zM549.1 316.1h1.9v1.4h-1.9zM550.0 308.4h1.9v1.4h-1.9zM550.6 323.1h1.9v1.4h-1.9zM551.3 327.0h1.9v1.4h-1.9zM551.7 325.4h1.9v1.4h-1.9zM552.4 310.2h1.9v1.4h-1.9zM553.1 317.0h1.9v1.4h-1.9zM553.9 303.7h1.9v1.4h-1.9zM554.3 295.7h1.9v1.4h-1.9zM554.9 302.9h1.9v1.4h-1.9zM555.6 305.4h1.9v1.4h-1.9zM556.1 298.8h1.9v1.4h-1.9zM557.1 297.4h1.9v1.4h-1.9zM557.6 303.2h1.9v1.4h-1.9zM558.2 302.1h1.9v1.4h-1.9zM559.0 306.6h1.9v1.4h-1.9zM559.7 317.8h1.9v1.4h-1.9zM560.3 315.4h1.9v1.4h-1.9zM560.8 317.1h1.9v1.4h-1.9zM561.4 319.8h1.9v1.4h-1.9zM562.1 319.2h1.9v1.4h-1.9zM562.8 324.6h1.9v1.4h-1.9zM563.6 326.1h1.9v1.4h-1.9zM563.9 321.7h1.9v1.4h-1.9zM564.8 325.2h1.9v1.4h-1.9zM565.5 335.7h1.9v1.4h-1.9zM566.1 328.5h1.9v1.4h-1.9zM566.7 326.7h1.9v1.4h-1.9zM567.3 337.6h1.9v1.4h-1.9zM568.0 329.3h1.9v1.4h-1.9zM568.7 323.9h1.9v1.4h-1.9zM569.1 331.3h1.9v1.4h-1.9zM570.1 323.7h1.9v1.4h-1.9zM570.6 325.0h1.9v1.4h-1.9zM571.2 328.2h1.9v1.4h-1.9zM572.1 325.6h1.9v1.4h-1.9zM572.5 322.3h1.9v1.4h-1.9zM573.3 322.8h1.9v1.4h-1.9zM573.8 322.4h1.9v1.4h-1.9zM574.5 330.1h1.9v1.4h-1.9zM575.0 321.5h1.9v1.4h-1.9zM575.7 321.9h1.9v1.4h-1.9zM576.4 333.5h1.9v1.4h-1.9zM577.0 321.7h1.9v1.4h-1.9zM577.9 330.7h1.9v1.4h-1.9zM578.4 329.7h1.9v1.4h-1.9zM579.0 322.7h1.9v1.4h-1.9zM579.7 317.0h1.9v1.4h-1.9zM580.2 326.1h1.9v1.4h-1.9zM581.0 328.7h1.9v1.4h-1.9zM581.7 331.7h1.9v1.4h-1.9zM582.3 329.2h1.9v1.4h-1.9zM582.9 336.0h1.9v1.4h-1.9zM583.7 338.4h1.9v1.4h-1.9zM584.4 329.0h1.9v1.4h-1.9zM585.1 341.4h1.9v1.4h-1.9zM585.6 337.1h1.9v1.4h-1.9zM586.4 335.1h1.9v1.4h-1.9zM587.0 337.5h1.9v1.4h-1.9zM587.6 346.5h1.9v1.4h-1.9zM588.0 340.8h1.9v1.4h-1.9zM588.9 326.6h1.9v1.4h-1.9zM589.5 333.3h1.9v1.4h-1.9zM590.2 330.7h1.9v1.4h-1.9zM590.7 330.9h1.9v1.4h-1.9zM591.6 329.7h1.9v1.4h-1.9zM111.1 441.3h1.9v1.4h-1.9zM113.1 445.9h1.9v1.4h-1.9zM115.3 444.6h1.9v1.4h-1.9zM117.5 444.5h1.9v1.4h-1.9zM119.7 448.4h1.9v1.4h-1.9zM122.1 436.0h1.9v1.4h-1.9zM124.3 438.5h1.9v1.4h-1.9zM126.4 435.5h1.9v1.4h-1.9zM128.6 440.8h1.9v1.4h-1.9zM130.7 445.7h1.9v1.4h-1.9zM133.0 441.2h1.9v1.4h-1.9zM135.4 443.5h1.9v1.4h-1.9zM137.3 432.9h1.9v1.4h-1.9zM139.7 441.9h1.9v1.4h-1.9zM141.9 437.3h1.9v1.4h-1.9zM143.9 449.1h1.9v1.4h-1.9zM146.2 445.2h1.9v1.4h-1.9zM148.3 445.5h1.9v1.4h-1.9zM150.7 441.0h1.9v1.4h-1.9zM152.8 443.9h1.9v1.4h-1.9zM154.9 444.1h1.9v1.4h-1.9zM157.2 439.6h1.9v1.4h-1.9zM159.3 438.9h1.9v1.4h-1.9zM161.8 440.5h1.9v1.4h-1.9zM163.9 438.3h1.9v1.4h-1.9zM166.0 438.3h1.9v1.4h-1.9zM168.2 439.7h1.9v1.4h-1.9zM170.5 437.7h1.9v1.4h-1.9zM172.8 445.4h1.9v1.4h-1.9zM174.8 433.8h1.9v1.4h-1.9zM176.9 444.4h1.9v1.4h-1.9zM179.1 437.9h1.9v1.4h-1.9zM181.3 438.2h1.9v1.4h-1.9zM183.5 434.7h1.9v1.4h-1.9zM185.9 439.9h1.9v1.4h-1.9zM188.0 439.4h1.9v1.4h-1.9zM190.4 441.3h1.9v1.4h-1.9zM192.6 438.1h1.9v1.4h-1.9zM194.5 440.8h1.9v1.4h-1.9zM197.0 448.4h1.9v1.4h-1.9zM199.1 442.1h1.9v1.4h-1.9zM201.4 437.6h1.9v1.4h-1.9zM203.3 444.2h1.9v1.4h-1.9zM205.8 439.2h1.9v1.4h-1.9zM207.8 442.3h1.9v1.4h-1.9zM209.9 442.2h1.9v1.4h-1.9zM212.2 437.6h1.9v1.4h-1.9zM214.6 427.7h1.9v1.4h-1.9zM216.6 437.5h1.9v1.4h-1.9zM218.8 441.2h1.9v1.4h-1.9zM221.2 437.0h1.9v1.4h-1.9zM223.4 440.4h1.9v1.4h-1.9zM225.6 444.1h1.9v1.4h-1.9zM227.5 435.8h1.9v1.4h-1.9zM230.0 443.4h1.9v1.4h-1.9zM232.1 445.0h1.9v1.4h-1.9zM234.4 442.4h1.9v1.4h-1.9zM236.6 442.6h1.9v1.4h-1.9zM238.8 442.2h1.9v1.4h-1.9zM241.0 446.6h1.9v1.4h-1.9zM243.1 437.3h1.9v1.4h-1.9zM245.1 436.1h1.9v1.4h-1.9zM247.5 438.3h1.9v1.4h-1.9zM249.5 431.2h1.9v1.4h-1.9zM251.8 427.9h1.9v1.4h-1.9zM254.0 430.4h1.9v1.4h-1.9zM256.2 435.5h1.9v1.4h-1.9zM258.6 435.5h1.9v1.4h-1.9zM260.8 425.9h1.9v1.4h-1.9zM263.0 423.5h1.9v1.4h-1.9zM265.1 429.5h1.9v1.4h-1.9zM267.4 429.1h1.9v1.4h-1.9zM269.3 428.8h1.9v1.4h-1.9zM271.6 431.1h1.9v1.4h-1.9zM274.0 432.7h1.9v1.4h-1.9zM276.0 427.4h1.9v1.4h-1.9zM278.2 428.1h1.9v1.4h-1.9zM280.6 419.7h1.9v1.4h-1.9z" fill="#476ca0"/>
<text x="163.0" y="563.8" font-size="12.2" fill="#c0141e" font-weight="bold" text-anchor="start" textLength="233.5" lengthAdjust="spacingAndGlyphs">SPECTRA OF COMET C/2014 Q2 (LOVEJOY)</text>
<text x="435.3" y="563.8" font-size="12.2" fill="#c0141e" font-weight="bold" text-anchor="start" textLength="98.7" lengthAdjust="spacingAndGlyphs">January 29 / 2015</text>
<text x="540.0" y="563.8" font-size="12.2" fill="#c0141e" font-weight="bold" text-anchor="start" textLength="25.2" lengthAdjust="spacingAndGlyphs">(U.T)</text>
<text x="211.0" y="580.9" font-size="12.2" fill="#1616b4" font-weight="bold" text-anchor="start" textLength="16.7" lengthAdjust="spacingAndGlyphs">By:</text>
<text x="233.5" y="580.9" font-size="12.2" fill="#1616b4" font-weight="bold" text-anchor="start" textLength="135.5" lengthAdjust="spacingAndGlyphs">Alberto Quijano Vodniza</text>
<text x="384.4" y="580.9" font-size="12.2" fill="#1616b4" font-weight="bold" text-anchor="start" textLength="8.9" lengthAdjust="spacingAndGlyphs">&amp;</text>
<text x="409.0" y="580.9" font-size="12.2" fill="#1616b4" font-weight="bold" text-anchor="start" textLength="109.2" lengthAdjust="spacingAndGlyphs">Mario Rojas Pereira</text>
<text x="237.0" y="596.6" font-size="12.2" fill="#000" font-weight="bold" text-anchor="start" textLength="255.2" lengthAdjust="spacingAndGlyphs">University of Narino Observatory - COLOMBIA</text>
<line x1="113.2" y1="981.5" x2="626.6" y2="981.5" stroke="#868686" stroke-width="1"/>
<line x1="113" y1="614.4" x2="116" y2="614.4" stroke="#909090" stroke-width="1"/>
<text x="106.0" y="617.2" font-size="8.3" fill="#000" font-weight="bold" text-anchor="end" textLength="18.4" lengthAdjust="spacingAndGlyphs">3600</text>
<text x="106.0" y="709.0" font-size="8.3" fill="#000" font-weight="bold" text-anchor="end" textLength="18.4" lengthAdjust="spacingAndGlyphs">3400</text>
<text x="106.0" y="800.8" font-size="8.3" fill="#000" font-weight="bold" text-anchor="end" textLength="18.4" lengthAdjust="spacingAndGlyphs">3200</text>
<text x="106.0" y="892.6" font-size="8.3" fill="#000" font-weight="bold" text-anchor="end" textLength="18.4" lengthAdjust="spacingAndGlyphs">3000</text>
<text x="106.0" y="984.4" font-size="8.3" fill="#000" font-weight="bold" text-anchor="end" textLength="18.4" lengthAdjust="spacingAndGlyphs">2800</text>
<line x1="116.0" y1="981.5" x2="116.0" y2="984.5" stroke="#c0c0c0" stroke-width="1"/>
<text x="116.0" y="996.4" font-size="7.8" fill="#000" font-weight="bold" text-anchor="middle" textLength="18.4" lengthAdjust="spacingAndGlyphs">4900</text>
<line x1="167.0" y1="981.5" x2="167.0" y2="984.5" stroke="#c0c0c0" stroke-width="1"/>
<text x="167.0" y="996.4" font-size="7.8" fill="#000" font-weight="bold" text-anchor="middle" textLength="18.4" lengthAdjust="spacingAndGlyphs">5000</text>
<line x1="218.0" y1="981.5" x2="218.0" y2="984.5" stroke="#c0c0c0" stroke-width="1"/>
<text x="218.0" y="996.4" font-size="7.8" fill="#000" font-weight="bold" text-anchor="middle" textLength="18.4" lengthAdjust="spacingAndGlyphs">5100</text>
<line x1="269.0" y1="981.5" x2="269.0" y2="984.5" stroke="#c0c0c0" stroke-width="1"/>
<text x="269.0" y="996.4" font-size="7.8" fill="#000" font-weight="bold" text-anchor="middle" textLength="18.4" lengthAdjust="spacingAndGlyphs">5200</text>
<line x1="320.0" y1="981.5" x2="320.0" y2="984.5" stroke="#c0c0c0" stroke-width="1"/>
<text x="320.0" y="996.4" font-size="7.8" fill="#000" font-weight="bold" text-anchor="middle" textLength="18.4" lengthAdjust="spacingAndGlyphs">5300</text>
<line x1="371.0" y1="981.5" x2="371.0" y2="984.5" stroke="#c0c0c0" stroke-width="1"/>
<text x="371.0" y="996.4" font-size="7.8" fill="#000" font-weight="bold" text-anchor="middle" textLength="18.4" lengthAdjust="spacingAndGlyphs">5400</text>
<line x1="422.0" y1="981.5" x2="422.0" y2="984.5" stroke="#c0c0c0" stroke-width="1"/>
<text x="422.0" y="996.4" font-size="7.8" fill="#000" font-weight="bold" text-anchor="middle" textLength="18.4" lengthAdjust="spacingAndGlyphs">5500</text>
<line x1="473.0" y1="981.5" x2="473.0" y2="984.5" stroke="#c0c0c0" stroke-width="1"/>
<text x="473.0" y="996.4" font-size="7.8" fill="#000" font-weight="bold" text-anchor="middle" textLength="18.4" lengthAdjust="spacingAndGlyphs">5600</text>
<line x1="524.0" y1="981.5" x2="524.0" y2="984.5" stroke="#c0c0c0" stroke-width="1"/>
<text x="524.0" y="996.4" font-size="7.8" fill="#000" font-weight="bold" text-anchor="middle" textLength="18.4" lengthAdjust="spacingAndGlyphs">5700</text>
<line x1="575.0" y1="981.5" x2="575.0" y2="984.5" stroke="#c0c0c0" stroke-width="1"/>
<text x="575.0" y="996.4" font-size="7.8" fill="#000" font-weight="bold" text-anchor="middle" textLength="18.4" lengthAdjust="spacingAndGlyphs">5800</text>
<line x1="626.0" y1="981.5" x2="626.0" y2="984.5" stroke="#c0c0c0" stroke-width="1"/>
<text x="626.0" y="996.4" font-size="7.8" fill="#000" font-weight="bold" text-anchor="middle" textLength="18.4" lengthAdjust="spacingAndGlyphs">5900</text>
<text x="302.2" y="1013.2" font-size="10.3" fill="#14148e" font-weight="bold" text-anchor="start" textLength="64.1" lengthAdjust="spacingAndGlyphs">WAVELENGTH</text>
<text x="373.7" y="1013.2" font-size="10.3" fill="#14148e" font-weight="bold" text-anchor="start" textLength="67.8" lengthAdjust="spacingAndGlyphs">(ANGSTROMS)</text>
<text x="77.0" y="762.5" font-size="9.0" fill="#14148e" font-weight="bold" text-anchor="middle">C</text>
<text x="77.0" y="778.2" font-size="9.0" fill="#14148e" font-weight="bold" text-anchor="middle">O</text>
<text x="77.0" y="794.0" font-size="9.0" fill="#14148e" font-weight="bold" text-anchor="middle">U</text>
<text x="77.0" y="809.8" font-size="9.0" fill="#14148e" font-weight="bold" text-anchor="middle">N</text>
<text x="77.0" y="825.5" font-size="9.0" fill="#14148e" font-weight="bold" text-anchor="middle">T</text>
<text x="77.0" y="841.2" font-size="9.0" fill="#14148e" font-weight="bold" text-anchor="middle">S</text>
<text x="245.2" y="630.9" font-size="9.0" fill="#b41424" font-weight="bold" text-anchor="start" textLength="10.4" lengthAdjust="spacingAndGlyphs">C2</text>
<text x="223.9" y="699.8" font-size="9.0" fill="#b41424" font-weight="bold" text-anchor="start" textLength="11.1" lengthAdjust="spacingAndGlyphs">C2</text>
<text x="369.9" y="816.6" font-size="9.0" fill="#b41424" font-weight="bold" text-anchor="start" textLength="16.8" lengthAdjust="spacingAndGlyphs">NH2</text>
<text x="397.0" y="814.5" font-size="9.0" fill="#b41424" font-weight="bold" text-anchor="start" textLength="16.8" lengthAdjust="spacingAndGlyphs">NH2</text>
<text x="421.6" y="817.6" font-size="9.0" fill="#b41424" font-weight="bold" text-anchor="start" textLength="9.9" lengthAdjust="spacingAndGlyphs">C2</text>
<text x="458.6" y="809.4" font-size="9.0" fill="#b41424" font-weight="bold" text-anchor="start" textLength="9.7" lengthAdjust="spacingAndGlyphs">C2</text>
<text x="483.3" y="825.4" font-size="9.0" fill="#b41424" font-weight="bold" text-anchor="start" textLength="9.8" lengthAdjust="spacingAndGlyphs">C2</text>
<text x="513.5" y="839.2" font-size="9.0" fill="#b41424" font-weight="bold" text-anchor="start" textLength="16.8" lengthAdjust="spacingAndGlyphs">NH2</text>
<text x="536.8" y="853.0" font-size="9.0" fill="#b41424" font-weight="bold" text-anchor="start" textLength="16.2" lengthAdjust="spacingAndGlyphs">NH2</text>
<path d="M182.2 870.2h1.9v1.4h-1.9zM182.7 878.1h1.9v1.4h-1.9zM182.9 850.3h1.9v1.4h-1.9zM183.4 876.8h1.9v1.4h-1.9zM184.2 861.6h1.9v1.4h-1.9zM185.9 855.0h1.9v1.4h-1.9zM186.7 862.2h1.9v1.4h-1.9zM187.1 859.0h1.9v1.4h-1.9zM187.4 858.2h1.9v1.4h-1.9zM188.1 833.5h1.9v1.4h-1.9zM188.5 838.0h1.9v1.4h-1.9zM189.1 861.7h1.9v1.4h-1.9zM189.7 856.2h1.9v1.4h-1.9zM190.1 865.1h1.9v1.4h-1.9zM190.4 856.5h1.9v1.4h-1.9zM191.1 837.8h1.9v1.4h-1.9zM192.2 849.3h1.9v1.4h-1.9zM192.7 845.5h1.9v1.4h-1.9zM193.1 835.5h1.9v1.4h-1.9zM193.4 840.9h1.9v1.4h-1.9zM194.0 838.6h1.9v1.4h-1.9zM194.6 845.8h1.9v1.4h-1.9zM195.4 849.1h1.9v1.4h-1.9zM196.1 829.1h1.9v1.4h-1.9zM196.4 836.7h1.9v1.4h-1.9zM197.0 834.6h1.9v1.4h-1.9zM197.5 821.4h1.9v1.4h-1.9zM197.9 816.5h1.9v1.4h-1.9zM198.4 831.7h1.9v1.4h-1.9zM199.6 818.0h1.9v1.4h-1.9zM200.2 820.5h1.9v1.4h-1.9zM200.5 809.9h1.9v1.4h-1.9zM201.0 815.2h1.9v1.4h-1.9zM201.6 806.5h1.9v1.4h-1.9zM202.1 810.8h1.9v1.4h-1.9zM202.6 815.9h1.9v1.4h-1.9zM203.5 812.1h1.9v1.4h-1.9zM204.0 795.7h1.9v1.4h-1.9zM205.2 790.4h1.9v1.4h-1.9zM205.7 799.9h1.9v1.4h-1.9zM206.2 800.7h1.9v1.4h-1.9zM206.7 797.8h1.9v1.4h-1.9zM207.0 796.7h1.9v1.4h-1.9zM208.4 787.2h1.9v1.4h-1.9zM209.9 786.7h1.9v1.4h-1.9zM210.6 789.3h1.9v1.4h-1.9zM210.9 789.7h1.9v1.4h-1.9zM211.5 778.5h1.9v1.4h-1.9zM212.2 777.2h1.9v1.4h-1.9zM212.7 783.8h1.9v1.4h-1.9zM213.1 775.8h1.9v1.4h-1.9zM213.4 776.2h1.9v1.4h-1.9zM214.0 786.6h1.9v1.4h-1.9zM214.7 788.8h1.9v1.4h-1.9zM215.5 781.4h1.9v1.4h-1.9zM216.0 781.1h1.9v1.4h-1.9zM216.5 777.7h1.9v1.4h-1.9zM217.0 777.2h1.9v1.4h-1.9zM218.0 787.5h1.9v1.4h-1.9zM218.5 782.1h1.9v1.4h-1.9zM219.1 782.2h1.9v1.4h-1.9zM219.5 785.4h1.9v1.4h-1.9zM221.1 777.8h1.9v1.4h-1.9zM221.4 774.6h1.9v1.4h-1.9zM222.0 777.2h1.9v1.4h-1.9zM222.6 766.7h1.9v1.4h-1.9zM223.1 781.5h1.9v1.4h-1.9zM223.7 775.4h1.9v1.4h-1.9zM224.0 770.2h1.9v1.4h-1.9zM224.4 760.3h1.9v1.4h-1.9zM225.4 759.9h1.9v1.4h-1.9zM226.2 753.8h1.9v1.4h-1.9zM227.0 738.2h1.9v1.4h-1.9zM227.7 749.0h1.9v1.4h-1.9zM228.1 740.2h1.9v1.4h-1.9zM228.4 735.4h1.9v1.4h-1.9zM228.9 741.8h1.9v1.4h-1.9zM229.6 736.0h1.9v1.4h-1.9zM230.0 724.2h1.9v1.4h-1.9zM230.6 727.8h1.9v1.4h-1.9zM231.2 724.0h1.9v1.4h-1.9zM232.0 710.5h1.9v1.4h-1.9zM232.4 715.4h1.9v1.4h-1.9zM233.1 723.3h1.9v1.4h-1.9zM233.7 737.7h1.9v1.4h-1.9zM234.2 731.9h1.9v1.4h-1.9zM235.1 749.7h1.9v1.4h-1.9zM235.4 764.4h1.9v1.4h-1.9zM236.0 774.6h1.9v1.4h-1.9zM236.6 783.8h1.9v1.4h-1.9zM237.0 778.9h1.9v1.4h-1.9zM237.6 774.7h1.9v1.4h-1.9zM237.9 786.4h1.9v1.4h-1.9zM239.0 785.3h1.9v1.4h-1.9zM239.4 789.0h1.9v1.4h-1.9zM240.2 798.3h1.9v1.4h-1.9zM240.4 784.0h1.9v1.4h-1.9zM241.0 781.0h1.9v1.4h-1.9zM241.5 783.9h1.9v1.4h-1.9zM242.2 781.6h1.9v1.4h-1.9zM242.7 775.2h1.9v1.4h-1.9zM242.9 772.5h1.9v1.4h-1.9zM243.7 775.0h1.9v1.4h-1.9zM244.2 776.0h1.9v1.4h-1.9zM244.7 768.2h1.9v1.4h-1.9zM245.2 763.7h1.9v1.4h-1.9zM245.7 762.5h1.9v1.4h-1.9zM246.2 740.3h1.9v1.4h-1.9zM246.6 739.5h1.9v1.4h-1.9zM247.1 740.4h1.9v1.4h-1.9zM247.6 734.2h1.9v1.4h-1.9zM248.2 731.9h1.9v1.4h-1.9zM248.5 730.8h1.9v1.4h-1.9zM249.2 719.7h1.9v1.4h-1.9zM249.6 715.3h1.9v1.4h-1.9zM250.0 711.5h1.9v1.4h-1.9zM250.6 717.5h1.9v1.4h-1.9zM251.1 727.3h1.9v1.4h-1.9zM251.4 733.7h1.9v1.4h-1.9zM252.4 770.4h1.9v1.4h-1.9zM253.0 787.8h1.9v1.4h-1.9zM253.6 821.0h1.9v1.4h-1.9zM255.0 897.9h1.9v1.4h-1.9zM255.7 889.9h1.9v1.4h-1.9zM256.2 894.2h1.9v1.4h-1.9zM256.5 898.9h1.9v1.4h-1.9zM257.0 909.8h1.9v1.4h-1.9zM257.7 902.4h1.9v1.4h-1.9zM258.0 900.5h1.9v1.4h-1.9zM258.4 902.8h1.9v1.4h-1.9zM258.9 915.6h1.9v1.4h-1.9zM259.5 898.9h1.9v1.4h-1.9zM260.2 919.8h1.9v1.4h-1.9zM260.6 892.4h1.9v1.4h-1.9zM261.0 898.8h1.9v1.4h-1.9zM261.4 916.3h1.9v1.4h-1.9zM262.0 910.0h1.9v1.4h-1.9zM262.4 896.3h1.9v1.4h-1.9zM262.9 903.8h1.9v1.4h-1.9zM263.6 897.8h1.9v1.4h-1.9zM264.2 913.5h1.9v1.4h-1.9zM264.7 910.4h1.9v1.4h-1.9zM265.2 897.9h1.9v1.4h-1.9zM265.7 909.0h1.9v1.4h-1.9zM266.1 901.4h1.9v1.4h-1.9zM266.5 904.4h1.9v1.4h-1.9zM267.0 905.8h1.9v1.4h-1.9zM267.7 897.6h1.9v1.4h-1.9zM268.2 909.5h1.9v1.4h-1.9zM268.7 909.9h1.9v1.4h-1.9zM268.9 909.6h1.9v1.4h-1.9zM269.4 916.5h1.9v1.4h-1.9zM270.2 902.9h1.9v1.4h-1.9zM270.6 890.9h1.9v1.4h-1.9zM271.2 899.3h1.9v1.4h-1.9zM271.4 908.1h1.9v1.4h-1.9zM271.9 906.4h1.9v1.4h-1.9zM272.4 912.1h1.9v1.4h-1.9zM272.9 914.6h1.9v1.4h-1.9zM273.4 905.5h1.9v1.4h-1.9zM274.2 905.7h1.9v1.4h-1.9zM274.4 897.1h1.9v1.4h-1.9zM275.2 917.4h1.9v1.4h-1.9zM275.6 904.6h1.9v1.4h-1.9zM275.9 896.6h1.9v1.4h-1.9zM276.7 896.4h1.9v1.4h-1.9zM277.2 903.6h1.9v1.4h-1.9zM277.4 923.4h1.9v1.4h-1.9zM278.1 915.7h1.9v1.4h-1.9zM278.5 891.2h1.9v1.4h-1.9zM279.0 907.1h1.9v1.4h-1.9zM279.5 911.1h1.9v1.4h-1.9zM280.0 914.9h1.9v1.4h-1.9zM280.5 912.2h1.9v1.4h-1.9zM281.1 902.5h1.9v1.4h-1.9zM281.4 913.2h1.9v1.4h-1.9zM282.2 903.7h1.9v1.4h-1.9zM282.7 887.3h1.9v1.4h-1.9zM282.9 902.4h1.9v1.4h-1.9zM283.6 902.8h1.9v1.4h-1.9zM284.0 919.3h1.9v1.4h-1.9zM284.5 920.5h1.9v1.4h-1.9zM285.0 899.6h1.9v1.4h-1.9zM285.4 912.0h1.9v1.4h-1.9zM286.1 911.3h1.9v1.4h-1.9zM286.4 896.2h1.9v1.4h-1.9zM287.2 890.2h1.9v1.4h-1.9zM287.6 909.9h1.9v1.4h-1.9zM288.0 912.4h1.9v1.4h-1.9zM288.6 905.2h1.9v1.4h-1.9zM289.1 889.3h1.9v1.4h-1.9zM289.7 911.2h1.9v1.4h-1.9zM289.9 905.9h1.9v1.4h-1.9zM290.4 903.0h1.9v1.4h-1.9zM291.1 908.9h1.9v1.4h-1.9zM291.7 901.0h1.9v1.4h-1.9zM292.0 918.1h1.9v1.4h-1.9zM292.7 912.8h1.9v1.4h-1.9zM292.9 907.3h1.9v1.4h-1.9zM293.5 915.9h1.9v1.4h-1.9zM294.2 913.0h1.9v1.4h-1.9zM294.7 898.3h1.9v1.4h-1.9zM294.9 912.3h1.9v1.4h-1.9zM295.6 909.3h1.9v1.4h-1.9zM295.9 896.7h1.9v1.4h-1.9zM296.4 907.8h1.9v1.4h-1.9zM296.9 918.8h1.9v1.4h-1.9zM297.7 908.5h1.9v1.4h-1.9zM297.9 929.0h1.9v1.4h-1.9zM298.4 932.1h1.9v1.4h-1.9zM299.0 911.9h1.9v1.4h-1.9zM299.5 923.7h1.9v1.4h-1.9zM300.0 937.6h1.9v1.4h-1.9zM300.4 912.3h1.9v1.4h-1.9zM301.1 906.2h1.9v1.4h-1.9zM301.6 911.7h1.9v1.4h-1.9zM302.2 901.4h1.9v1.4h-1.9zM302.7 901.9h1.9v1.4h-1.9zM303.2 919.2h1.9v1.4h-1.9zM303.4 912.5h1.9v1.4h-1.9zM304.1 920.0h1.9v1.4h-1.9zM304.5 922.9h1.9v1.4h-1.9zM304.9 909.3h1.9v1.4h-1.9zM305.5 915.8h1.9v1.4h-1.9zM306.1 915.1h1.9v1.4h-1.9zM306.5 910.9h1.9v1.4h-1.9zM306.9 909.3h1.9v1.4h-1.9zM307.6 922.2h1.9v1.4h-1.9zM308.2 917.4h1.9v1.4h-1.9zM308.7 922.8h1.9v1.4h-1.9zM309.2 930.3h1.9v1.4h-1.9zM309.7 930.2h1.9v1.4h-1.9zM309.9 906.5h1.9v1.4h-1.9zM310.7 909.1h1.9v1.4h-1.9zM310.9 915.4h1.9v1.4h-1.9zM311.4 919.3h1.9v1.4h-1.9zM312.2 928.0h1.9v1.4h-1.9zM312.6 906.8h1.9v1.4h-1.9zM313.2 912.4h1.9v1.4h-1.9zM313.5 919.6h1.9v1.4h-1.9zM314.1 930.2h1.9v1.4h-1.9zM314.6 931.5h1.9v1.4h-1.9zM315.1 905.0h1.9v1.4h-1.9zM315.7 913.5h1.9v1.4h-1.9zM316.2 903.6h1.9v1.4h-1.9zM316.4 924.6h1.9v1.4h-1.9zM317.2 919.9h1.9v1.4h-1.9zM317.5 910.8h1.9v1.4h-1.9zM317.9 907.8h1.9v1.4h-1.9zM318.7 917.5h1.9v1.4h-1.9zM319.0 924.7h1.9v1.4h-1.9zM319.7 905.3h1.9v1.4h-1.9zM319.9 909.9h1.9v1.4h-1.9zM320.7 914.4h1.9v1.4h-1.9zM321.0 913.1h1.9v1.4h-1.9zM321.7 916.3h1.9v1.4h-1.9zM322.1 901.4h1.9v1.4h-1.9zM322.7 905.6h1.9v1.4h-1.9zM323.1 888.7h1.9v1.4h-1.9zM323.7 912.2h1.9v1.4h-1.9zM323.9 923.1h1.9v1.4h-1.9zM324.4 880.4h1.9v1.4h-1.9zM324.9 903.7h1.9v1.4h-1.9zM325.7 920.2h1.9v1.4h-1.9zM326.2 908.4h1.9v1.4h-1.9zM326.5 888.8h1.9v1.4h-1.9zM326.9 922.2h1.9v1.4h-1.9zM327.5 893.3h1.9v1.4h-1.9zM328.0 923.7h1.9v1.4h-1.9zM328.7 901.9h1.9v1.4h-1.9zM329.0 900.2h1.9v1.4h-1.9zM329.4 907.9h1.9v1.4h-1.9zM330.1 907.1h1.9v1.4h-1.9zM330.7 913.6h1.9v1.4h-1.9zM331.0 912.2h1.9v1.4h-1.9zM331.6 904.7h1.9v1.4h-1.9zM332.2 920.5h1.9v1.4h-1.9zM332.4 913.5h1.9v1.4h-1.9zM333.1 908.3h1.9v1.4h-1.9zM333.5 906.5h1.9v1.4h-1.9zM334.2 903.6h1.9v1.4h-1.9zM334.7 903.4h1.9v1.4h-1.9zM334.9 911.3h1.9v1.4h-1.9zM335.4 908.9h1.9v1.4h-1.9zM335.9 903.7h1.9v1.4h-1.9zM336.5 914.1h1.9v1.4h-1.9zM337.1 899.7h1.9v1.4h-1.9zM337.4 907.1h1.9v1.4h-1.9zM337.9 911.4h1.9v1.4h-1.9zM338.7 889.4h1.9v1.4h-1.9zM339.0 898.4h1.9v1.4h-1.9zM339.7 919.3h1.9v1.4h-1.9zM340.2 890.0h1.9v1.4h-1.9zM340.6 912.8h1.9v1.4h-1.9zM341.0 888.0h1.9v1.4h-1.9zM341.5 903.8h1.9v1.4h-1.9zM342.1 887.2h1.9v1.4h-1.9zM342.4 891.7h1.9v1.4h-1.9zM343.2 894.0h1.9v1.4h-1.9zM343.6 891.7h1.9v1.4h-1.9zM344.1 908.4h1.9v1.4h-1.9zM344.7 906.1h1.9v1.4h-1.9zM345.1 906.1h1.9v1.4h-1.9zM345.5 898.2h1.9v1.4h-1.9zM345.9 913.7h1.9v1.4h-1.9zM346.6 906.6h1.9v1.4h-1.9zM347.2 898.5h1.9v1.4h-1.9zM347.6 883.0h1.9v1.4h-1.9zM347.9 901.6h1.9v1.4h-1.9zM348.5 900.9h1.9v1.4h-1.9zM349.2 894.3h1.9v1.4h-1.9zM349.5 900.7h1.9v1.4h-1.9zM350.2 901.0h1.9v1.4h-1.9zM350.5 888.8h1.9v1.4h-1.9zM351.1 897.9h1.9v1.4h-1.9zM351.5 895.1h1.9v1.4h-1.9zM351.9 894.3h1.9v1.4h-1.9zM352.5 886.7h1.9v1.4h-1.9zM353.0 885.0h1.9v1.4h-1.9zM353.7 891.0h1.9v1.4h-1.9zM354.2 905.0h1.9v1.4h-1.9zM354.7 913.2h1.9v1.4h-1.9zM355.0 884.6h1.9v1.4h-1.9zM355.6 876.7h1.9v1.4h-1.9zM356.2 884.2h1.9v1.4h-1.9zM356.5 878.4h1.9v1.4h-1.9zM357.1 882.7h1.9v1.4h-1.9zM357.5 891.3h1.9v1.4h-1.9zM358.1 876.6h1.9v1.4h-1.9zM358.5 893.0h1.9v1.4h-1.9zM359.2 894.7h1.9v1.4h-1.9zM359.7 902.3h1.9v1.4h-1.9zM360.0 905.3h1.9v1.4h-1.9zM360.5 895.9h1.9v1.4h-1.9zM360.9 908.8h1.9v1.4h-1.9zM361.5 878.8h1.9v1.4h-1.9zM362.2 887.0h1.9v1.4h-1.9zM362.5 885.5h1.9v1.4h-1.9zM362.9 888.1h1.9v1.4h-1.9zM363.4 894.2h1.9v1.4h-1.9zM363.9 879.1h1.9v1.4h-1.9zM364.6 901.1h1.9v1.4h-1.9zM365.2 896.0h1.9v1.4h-1.9zM365.5 885.5h1.9v1.4h-1.9zM366.0 886.5h1.9v1.4h-1.9zM366.5 870.4h1.9v1.4h-1.9zM367.0 856.4h1.9v1.4h-1.9zM367.4 879.4h1.9v1.4h-1.9zM368.0 883.5h1.9v1.4h-1.9zM368.6 882.2h1.9v1.4h-1.9zM369.1 867.3h1.9v1.4h-1.9zM369.7 874.1h1.9v1.4h-1.9zM370.0 898.0h1.9v1.4h-1.9zM370.4 886.4h1.9v1.4h-1.9zM371.1 884.8h1.9v1.4h-1.9zM371.6 874.3h1.9v1.4h-1.9zM372.2 885.5h1.9v1.4h-1.9zM372.4 891.2h1.9v1.4h-1.9zM372.9 885.1h1.9v1.4h-1.9zM373.4 872.0h1.9v1.4h-1.9zM373.9 879.2h1.9v1.4h-1.9zM374.7 866.1h1.9v1.4h-1.9zM375.0 872.1h1.9v1.4h-1.9zM375.4 881.6h1.9v1.4h-1.9zM376.2 868.9h1.9v1.4h-1.9zM376.5 871.9h1.9v1.4h-1.9zM376.9 889.8h1.9v1.4h-1.9zM377.4 871.9h1.9v1.4h-1.9zM378.0 881.8h1.9v1.4h-1.9zM378.7 869.8h1.9v1.4h-1.9zM379.2 860.3h1.9v1.4h-1.9zM379.7 872.5h1.9v1.4h-1.9zM380.0 868.2h1.9v1.4h-1.9zM380.6 849.8h1.9v1.4h-1.9zM381.0 858.3h1.9v1.4h-1.9zM381.5 866.5h1.9v1.4h-1.9zM382.1 886.9h1.9v1.4h-1.9zM382.6 864.2h1.9v1.4h-1.9zM383.0 869.8h1.9v1.4h-1.9zM383.6 876.7h1.9v1.4h-1.9zM384.1 872.6h1.9v1.4h-1.9zM384.7 865.4h1.9v1.4h-1.9zM384.9 887.2h1.9v1.4h-1.9zM385.7 882.9h1.9v1.4h-1.9zM386.2 843.5h1.9v1.4h-1.9zM386.6 877.9h1.9v1.4h-1.9zM387.1 873.0h1.9v1.4h-1.9zM387.7 877.4h1.9v1.4h-1.9zM388.0 867.2h1.9v1.4h-1.9zM388.6 874.9h1.9v1.4h-1.9zM389.2 886.5h1.9v1.4h-1.9zM389.6 883.7h1.9v1.4h-1.9zM390.1 884.2h1.9v1.4h-1.9zM390.4 875.8h1.9v1.4h-1.9zM390.9 873.9h1.9v1.4h-1.9zM391.5 873.7h1.9v1.4h-1.9zM392.0 850.9h1.9v1.4h-1.9zM392.4 886.7h1.9v1.4h-1.9zM393.1 864.9h1.9v1.4h-1.9zM393.4 865.4h1.9v1.4h-1.9zM394.0 862.8h1.9v1.4h-1.9zM394.4 866.2h1.9v1.4h-1.9zM395.2 837.5h1.9v1.4h-1.9zM395.7 862.8h1.9v1.4h-1.9zM396.2 846.0h1.9v1.4h-1.9zM396.4 848.7h1.9v1.4h-1.9zM397.2 838.8h1.9v1.4h-1.9zM397.6 839.9h1.9v1.4h-1.9zM398.0 864.7h1.9v1.4h-1.9zM398.7 852.5h1.9v1.4h-1.9zM398.9 856.3h1.9v1.4h-1.9zM399.7 853.9h1.9v1.4h-1.9zM400.0 841.4h1.9v1.4h-1.9zM400.4 844.7h1.9v1.4h-1.9zM400.9 837.0h1.9v1.4h-1.9zM401.6 845.7h1.9v1.4h-1.9zM401.9 823.2h1.9v1.4h-1.9zM402.7 844.8h1.9v1.4h-1.9zM403.2 860.7h1.9v1.4h-1.9zM403.7 865.6h1.9v1.4h-1.9zM404.0 866.5h1.9v1.4h-1.9zM404.6 861.1h1.9v1.4h-1.9zM405.1 846.4h1.9v1.4h-1.9zM405.4 867.3h1.9v1.4h-1.9zM406.2 863.0h1.9v1.4h-1.9zM406.7 861.3h1.9v1.4h-1.9zM406.9 844.1h1.9v1.4h-1.9zM407.7 861.6h1.9v1.4h-1.9zM408.0 878.2h1.9v1.4h-1.9zM408.4 865.4h1.9v1.4h-1.9zM409.1 854.8h1.9v1.4h-1.9zM409.4 863.3h1.9v1.4h-1.9zM410.1 857.4h1.9v1.4h-1.9zM410.6 859.3h1.9v1.4h-1.9zM411.0 866.6h1.9v1.4h-1.9zM411.6 861.1h1.9v1.4h-1.9zM412.0 858.1h1.9v1.4h-1.9zM412.7 861.5h1.9v1.4h-1.9zM413.2 848.4h1.9v1.4h-1.9zM413.4 846.4h1.9v1.4h-1.9zM414.1 862.6h1.9v1.4h-1.9zM414.5 848.6h1.9v1.4h-1.9zM414.9 863.4h1.9v1.4h-1.9zM415.5 837.2h1.9v1.4h-1.9zM415.9 870.4h1.9v1.4h-1.9zM416.7 856.2h1.9v1.4h-1.9zM417.1 875.5h1.9v1.4h-1.9zM417.5 833.1h1.9v1.4h-1.9zM418.0 838.9h1.9v1.4h-1.9zM418.4 872.7h1.9v1.4h-1.9zM419.0 859.0h1.9v1.4h-1.9zM419.7 860.4h1.9v1.4h-1.9zM420.2 858.1h1.9v1.4h-1.9zM420.4 858.2h1.9v1.4h-1.9zM420.9 862.0h1.9v1.4h-1.9zM421.4 844.8h1.9v1.4h-1.9zM422.0 853.7h1.9v1.4h-1.9zM422.7 869.5h1.9v1.4h-1.9zM422.9 856.9h1.9v1.4h-1.9zM423.7 847.9h1.9v1.4h-1.9zM424.1 855.4h1.9v1.4h-1.9zM424.4 865.5h1.9v1.4h-1.9zM425.2 851.6h1.9v1.4h-1.9zM425.7 851.5h1.9v1.4h-1.9zM426.2 858.5h1.9v1.4h-1.9zM426.5 862.2h1.9v1.4h-1.9zM427.1 868.7h1.9v1.4h-1.9zM427.4 850.9h1.9v1.4h-1.9zM428.2 855.8h1.9v1.4h-1.9zM428.7 863.1h1.9v1.4h-1.9zM428.9 830.6h1.9v1.4h-1.9zM429.5 853.1h1.9v1.4h-1.9zM430.0 856.8h1.9v1.4h-1.9zM430.7 851.0h1.9v1.4h-1.9zM430.9 842.7h1.9v1.4h-1.9zM431.5 858.6h1.9v1.4h-1.9zM432.2 865.9h1.9v1.4h-1.9zM432.6 851.5h1.9v1.4h-1.9zM432.9 847.4h1.9v1.4h-1.9zM433.6 850.5h1.9v1.4h-1.9zM433.9 870.0h1.9v1.4h-1.9zM434.4 866.7h1.9v1.4h-1.9zM435.2 853.8h1.9v1.4h-1.9zM435.5 841.5h1.9v1.4h-1.9zM436.0 839.8h1.9v1.4h-1.9zM436.6 850.3h1.9v1.4h-1.9zM437.0 850.5h1.9v1.4h-1.9zM437.7 857.0h1.9v1.4h-1.9zM438.1 841.9h1.9v1.4h-1.9zM438.6 853.0h1.9v1.4h-1.9zM439.1 860.4h1.9v1.4h-1.9zM439.4 836.3h1.9v1.4h-1.9zM440.2 879.0h1.9v1.4h-1.9zM440.7 861.6h1.9v1.4h-1.9zM440.9 861.4h1.9v1.4h-1.9zM441.4 841.6h1.9v1.4h-1.9zM442.1 844.9h1.9v1.4h-1.9zM442.7 867.5h1.9v1.4h-1.9zM443.0 866.3h1.9v1.4h-1.9zM443.5 823.9h1.9v1.4h-1.9zM443.9 869.8h1.9v1.4h-1.9zM444.7 865.4h1.9v1.4h-1.9zM445.1 864.5h1.9v1.4h-1.9zM445.7 845.7h1.9v1.4h-1.9zM446.2 861.0h1.9v1.4h-1.9zM446.6 851.8h1.9v1.4h-1.9zM446.9 864.8h1.9v1.4h-1.9zM447.5 879.1h1.9v1.4h-1.9zM447.9 866.2h1.9v1.4h-1.9zM448.7 870.6h1.9v1.4h-1.9zM449.1 856.3h1.9v1.4h-1.9zM449.6 848.4h1.9v1.4h-1.9zM450.0 859.6h1.9v1.4h-1.9zM450.5 870.8h1.9v1.4h-1.9zM451.0 875.4h1.9v1.4h-1.9zM451.6 858.5h1.9v1.4h-1.9zM452.2 861.8h1.9v1.4h-1.9zM452.4 854.5h1.9v1.4h-1.9zM453.0 839.9h1.9v1.4h-1.9zM453.6 859.6h1.9v1.4h-1.9zM453.9 862.4h1.9v1.4h-1.9zM454.7 853.9h1.9v1.4h-1.9zM455.1 856.4h1.9v1.4h-1.9zM455.5 838.4h1.9v1.4h-1.9zM455.9 858.7h1.9v1.4h-1.9zM456.5 873.1h1.9v1.4h-1.9zM456.9 857.6h1.9v1.4h-1.9zM457.7 863.4h1.9v1.4h-1.9zM457.9 860.7h1.9v1.4h-1.9zM458.4 846.5h1.9v1.4h-1.9zM459.0 856.1h1.9v1.4h-1.9zM459.5 843.8h1.9v1.4h-1.9zM460.0 875.5h1.9v1.4h-1.9zM460.4 853.1h1.9v1.4h-1.9zM461.0 837.9h1.9v1.4h-1.9zM461.7 832.0h1.9v1.4h-1.9zM462.2 864.2h1.9v1.4h-1.9zM462.7 853.6h1.9v1.4h-1.9zM462.9 850.2h1.9v1.4h-1.9zM463.5 833.2h1.9v1.4h-1.9zM463.9 844.4h1.9v1.4h-1.9zM464.5 839.6h1.9v1.4h-1.9zM465.2 867.4h1.9v1.4h-1.9zM465.7 851.9h1.9v1.4h-1.9zM466.2 881.2h1.9v1.4h-1.9zM466.5 868.1h1.9v1.4h-1.9zM467.0 861.3h1.9v1.4h-1.9zM467.5 880.0h1.9v1.4h-1.9zM468.0 842.8h1.9v1.4h-1.9zM468.6 857.2h1.9v1.4h-1.9zM469.0 862.4h1.9v1.4h-1.9zM469.6 879.0h1.9v1.4h-1.9zM470.0 879.6h1.9v1.4h-1.9zM470.4 872.2h1.9v1.4h-1.9zM471.2 849.3h1.9v1.4h-1.9zM471.6 863.5h1.9v1.4h-1.9zM472.1 857.7h1.9v1.4h-1.9zM472.5 884.0h1.9v1.4h-1.9zM473.0 866.0h1.9v1.4h-1.9zM473.4 877.8h1.9v1.4h-1.9zM474.2 892.2h1.9v1.4h-1.9zM474.4 871.5h1.9v1.4h-1.9zM475.1 880.5h1.9v1.4h-1.9zM475.5 869.1h1.9v1.4h-1.9zM476.0 874.7h1.9v1.4h-1.9zM476.4 874.8h1.9v1.4h-1.9zM476.9 875.0h1.9v1.4h-1.9zM477.5 875.3h1.9v1.4h-1.9zM478.1 870.0h1.9v1.4h-1.9zM478.4 894.7h1.9v1.4h-1.9zM478.9 866.8h1.9v1.4h-1.9zM479.4 876.4h1.9v1.4h-1.9zM479.9 870.2h1.9v1.4h-1.9zM480.7 848.6h1.9v1.4h-1.9zM481.1 883.7h1.9v1.4h-1.9zM481.6 875.4h1.9v1.4h-1.9zM482.2 857.5h1.9v1.4h-1.9zM482.5 864.4h1.9v1.4h-1.9zM483.0 854.4h1.9v1.4h-1.9zM483.6 875.1h1.9v1.4h-1.9zM484.0 888.9h1.9v1.4h-1.9zM484.6 883.4h1.9v1.4h-1.9zM485.2 854.0h1.9v1.4h-1.9zM485.7 847.5h1.9v1.4h-1.9zM485.9 870.5h1.9v1.4h-1.9zM486.7 881.4h1.9v1.4h-1.9zM486.9 861.7h1.9v1.4h-1.9zM487.7 871.0h1.9v1.4h-1.9zM488.2 842.3h1.9v1.4h-1.9zM488.7 860.1h1.9v1.4h-1.9zM489.2 869.8h1.9v1.4h-1.9zM489.5 864.1h1.9v1.4h-1.9zM490.2 869.8h1.9v1.4h-1.9zM490.4 883.5h1.9v1.4h-1.9zM490.9 872.7h1.9v1.4h-1.9zM491.5 870.8h1.9v1.4h-1.9zM491.9 892.0h1.9v1.4h-1.9zM492.6 888.5h1.9v1.4h-1.9zM492.9 876.9h1.9v1.4h-1.9zM493.5 894.7h1.9v1.4h-1.9zM494.2 885.9h1.9v1.4h-1.9zM494.6 901.2h1.9v1.4h-1.9zM495.0 896.1h1.9v1.4h-1.9zM495.7 895.1h1.9v1.4h-1.9zM495.9 891.9h1.9v1.4h-1.9zM496.6 904.7h1.9v1.4h-1.9zM497.2 904.0h1.9v1.4h-1.9zM497.6 925.8h1.9v1.4h-1.9zM498.0 905.0h1.9v1.4h-1.9zM498.4 891.2h1.9v1.4h-1.9zM499.2 929.3h1.9v1.4h-1.9zM499.4 884.6h1.9v1.4h-1.9zM500.2 925.7h1.9v1.4h-1.9zM500.6 898.5h1.9v1.4h-1.9zM501.0 923.8h1.9v1.4h-1.9zM501.6 907.0h1.9v1.4h-1.9zM502.1 915.5h1.9v1.4h-1.9zM502.4 910.3h1.9v1.4h-1.9zM503.1 909.3h1.9v1.4h-1.9zM503.4 918.8h1.9v1.4h-1.9zM504.1 904.4h1.9v1.4h-1.9zM504.5 915.0h1.9v1.4h-1.9zM504.9 896.1h1.9v1.4h-1.9zM505.7 898.3h1.9v1.4h-1.9zM506.0 899.0h1.9v1.4h-1.9zM506.4 901.8h1.9v1.4h-1.9zM507.2 914.5h1.9v1.4h-1.9zM507.5 890.2h1.9v1.4h-1.9zM508.2 888.3h1.9v1.4h-1.9zM508.4 883.6h1.9v1.4h-1.9zM509.2 889.8h1.9v1.4h-1.9zM509.6 898.7h1.9v1.4h-1.9zM510.1 882.6h1.9v1.4h-1.9zM510.5 885.9h1.9v1.4h-1.9zM511.2 880.9h1.9v1.4h-1.9zM511.5 887.2h1.9v1.4h-1.9zM511.9 862.9h1.9v1.4h-1.9zM512.6 890.5h1.9v1.4h-1.9zM513.1 893.0h1.9v1.4h-1.9zM513.5 872.5h1.9v1.4h-1.9zM514.1 879.7h1.9v1.4h-1.9zM514.6 869.4h1.9v1.4h-1.9zM514.9 889.2h1.9v1.4h-1.9zM515.7 884.0h1.9v1.4h-1.9zM516.1 900.1h1.9v1.4h-1.9zM516.4 872.5h1.9v1.4h-1.9zM517.1 864.0h1.9v1.4h-1.9zM517.7 867.3h1.9v1.4h-1.9zM518.0 857.6h1.9v1.4h-1.9zM518.6 875.3h1.9v1.4h-1.9zM519.0 878.1h1.9v1.4h-1.9zM519.5 886.5h1.9v1.4h-1.9zM519.9 882.4h1.9v1.4h-1.9zM520.6 875.0h1.9v1.4h-1.9zM521.2 895.4h1.9v1.4h-1.9zM521.4 889.2h1.9v1.4h-1.9zM522.2 896.9h1.9v1.4h-1.9zM522.4 868.3h1.9v1.4h-1.9zM522.9 877.5h1.9v1.4h-1.9zM523.6 880.7h1.9v1.4h-1.9zM523.9 884.5h1.9v1.4h-1.9zM524.7 865.9h1.9v1.4h-1.9zM525.0 904.2h1.9v1.4h-1.9zM525.7 889.8h1.9v1.4h-1.9zM526.2 902.5h1.9v1.4h-1.9zM526.4 902.8h1.9v1.4h-1.9zM527.1 911.8h1.9v1.4h-1.9zM527.7 902.8h1.9v1.4h-1.9zM528.1 901.7h1.9v1.4h-1.9zM528.6 890.5h1.9v1.4h-1.9zM528.9 901.1h1.9v1.4h-1.9zM529.4 919.1h1.9v1.4h-1.9zM529.9 880.4h1.9v1.4h-1.9zM530.4 892.0h1.9v1.4h-1.9zM531.0 902.9h1.9v1.4h-1.9zM531.5 917.6h1.9v1.4h-1.9zM531.9 887.8h1.9v1.4h-1.9zM532.7 895.0h1.9v1.4h-1.9zM533.0 901.6h1.9v1.4h-1.9zM533.4 923.5h1.9v1.4h-1.9zM534.1 890.5h1.9v1.4h-1.9zM534.4 898.3h1.9v1.4h-1.9zM535.1 908.2h1.9v1.4h-1.9zM535.7 892.3h1.9v1.4h-1.9zM536.1 904.3h1.9v1.4h-1.9zM536.7 902.8h1.9v1.4h-1.9zM537.1 892.4h1.9v1.4h-1.9zM537.6 898.4h1.9v1.4h-1.9zM538.2 911.6h1.9v1.4h-1.9zM538.4 892.2h1.9v1.4h-1.9zM539.1 884.3h1.9v1.4h-1.9zM539.7 878.9h1.9v1.4h-1.9zM540.2 887.8h1.9v1.4h-1.9zM540.4 898.6h1.9v1.4h-1.9zM541.0 890.6h1.9v1.4h-1.9zM541.6 894.3h1.9v1.4h-1.9zM542.2 916.0h1.9v1.4h-1.9zM542.4 886.3h1.9v1.4h-1.9zM543.1 884.7h1.9v1.4h-1.9zM543.7 901.5h1.9v1.4h-1.9zM544.0 898.0h1.9v1.4h-1.9zM544.6 907.0h1.9v1.4h-1.9zM544.9 914.7h1.9v1.4h-1.9zM545.6 905.5h1.9v1.4h-1.9zM546.0 899.4h1.9v1.4h-1.9zM546.6 908.0h1.9v1.4h-1.9zM547.1 908.0h1.9v1.4h-1.9zM547.6 902.1h1.9v1.4h-1.9zM548.0 897.2h1.9v1.4h-1.9zM548.4 911.3h1.9v1.4h-1.9zM548.9 902.1h1.9v1.4h-1.9zM549.7 892.1h1.9v1.4h-1.9zM549.9 912.6h1.9v1.4h-1.9zM550.5 899.8h1.9v1.4h-1.9zM550.9 900.0h1.9v1.4h-1.9zM551.5 913.4h1.9v1.4h-1.9zM552.0 898.1h1.9v1.4h-1.9zM552.6 905.1h1.9v1.4h-1.9zM552.9 896.7h1.9v1.4h-1.9zM553.6 891.1h1.9v1.4h-1.9zM554.2 911.4h1.9v1.4h-1.9zM554.6 925.3h1.9v1.4h-1.9zM554.9 898.6h1.9v1.4h-1.9zM555.5 921.0h1.9v1.4h-1.9zM556.0 919.9h1.9v1.4h-1.9zM556.6 924.7h1.9v1.4h-1.9zM556.9 896.4h1.9v1.4h-1.9zM557.7 901.0h1.9v1.4h-1.9zM558.0 926.3h1.9v1.4h-1.9zM558.7 907.6h1.9v1.4h-1.9zM559.0 908.4h1.9v1.4h-1.9zM559.4 916.0h1.9v1.4h-1.9zM560.1 915.0h1.9v1.4h-1.9zM560.5 902.2h1.9v1.4h-1.9zM561.1 905.9h1.9v1.4h-1.9zM561.6 915.3h1.9v1.4h-1.9zM562.2 911.3h1.9v1.4h-1.9zM562.5 900.3h1.9v1.4h-1.9zM563.2 922.4h1.9v1.4h-1.9zM563.4 917.7h1.9v1.4h-1.9zM564.0 904.9h1.9v1.4h-1.9zM564.4 902.3h1.9v1.4h-1.9zM565.1 918.5h1.9v1.4h-1.9zM565.7 883.1h1.9v1.4h-1.9zM566.1 909.6h1.9v1.4h-1.9zM566.4 901.9h1.9v1.4h-1.9zM567.1 901.0h1.9v1.4h-1.9zM567.4 918.1h1.9v1.4h-1.9zM568.1 911.8h1.9v1.4h-1.9zM568.6 931.5h1.9v1.4h-1.9zM569.1 906.1h1.9v1.4h-1.9zM569.5 912.0h1.9v1.4h-1.9zM570.2 892.2h1.9v1.4h-1.9zM570.4 918.1h1.9v1.4h-1.9zM570.9 900.1h1.9v1.4h-1.9zM571.4 908.5h1.9v1.4h-1.9zM572.2 919.8h1.9v1.4h-1.9zM572.5 918.1h1.9v1.4h-1.9zM573.2 910.0h1.9v1.4h-1.9zM573.4 918.2h1.9v1.4h-1.9zM574.2 897.6h1.9v1.4h-1.9zM574.4 892.9h1.9v1.4h-1.9zM574.9 886.0h1.9v1.4h-1.9zM575.5 910.9h1.9v1.4h-1.9zM576.0 923.2h1.9v1.4h-1.9zM576.6 897.6h1.9v1.4h-1.9zM576.9 900.8h1.9v1.4h-1.9zM577.7 896.7h1.9v1.4h-1.9zM578.2 905.0h1.9v1.4h-1.9zM578.4 879.1h1.9v1.4h-1.9zM579.2 908.0h1.9v1.4h-1.9zM579.6 908.0h1.9v1.4h-1.9zM580.1 886.1h1.9v1.4h-1.9zM580.4 880.0h1.9v1.4h-1.9zM581.2 878.9h1.9v1.4h-1.9zM581.5 896.4h1.9v1.4h-1.9zM582.2 907.9h1.9v1.4h-1.9zM582.6 882.8h1.9v1.4h-1.9zM583.1 878.4h1.9v1.4h-1.9zM583.5 899.0h1.9v1.4h-1.9zM584.0 901.7h1.9v1.4h-1.9zM584.5 908.2h1.9v1.4h-1.9zM585.0 894.5h1.9v1.4h-1.9zM585.6 911.9h1.9v1.4h-1.9zM586.2 917.6h1.9v1.4h-1.9zM586.4 887.8h1.9v1.4h-1.9zM587.1 902.8h1.9v1.4h-1.9zM587.7 913.1h1.9v1.4h-1.9zM588.1 915.1h1.9v1.4h-1.9zM588.6 900.9h1.9v1.4h-1.9zM589.2 886.0h1.9v1.4h-1.9zM589.4 899.0h1.9v1.4h-1.9zM590.0 887.1h1.9v1.4h-1.9zM590.7 902.4h1.9v1.4h-1.9zM590.9 919.8h1.9v1.4h-1.9zM591.7 901.8h1.9v1.4h-1.9zM592.1 910.0h1.9v1.4h-1.9zM592.5 896.1h1.9v1.4h-1.9zM592.9 919.9h1.9v1.4h-1.9zM593.4 903.1h1.9v1.4h-1.9zM593.9 898.8h1.9v1.4h-1.9zM594.6 931.1h1.9v1.4h-1.9zM595.1 914.6h1.9v1.4h-1.9zM595.5 918.7h1.9v1.4h-1.9zM595.9 889.6h1.9v1.4h-1.9zM596.6 927.5h1.9v1.4h-1.9zM181.6 919.9h1.9v1.4h-1.9zM250.1 640.3h1.9v1.4h-1.9zM250.1 656.3h1.9v1.4h-1.9zM250.1 667.3h1.9v1.4h-1.9zM249.2 689.9h1.9v1.4h-1.9zM253.4 813.9h1.9v1.4h-1.9zM254.0 859.7h1.9v1.4h-1.9zM567.4 940.3h1.9v1.4h-1.9zM595.0 953.9h1.9v1.4h-1.9zM596.0 929.3h1.9v1.4h-1.9zM402.1 824.0h1.9v1.4h-1.9zM401.1 829.3h1.9v1.4h-1.9zM403.1 834.3h1.9v1.4h-1.9zM463.1 818.8h1.9v1.4h-1.9zM462.6 825.3h1.9v1.4h-1.9zM464.1 831.3h1.9v1.4h-1.9zM488.4 835.3h1.9v1.4h-1.9zM488.1 841.3h1.9v1.4h-1.9zM519.0 850.1h1.9v1.4h-1.9zM518.0 855.3h1.9v1.4h-1.9zM520.0 859.3h1.9v1.4h-1.9zM539.6 859.3h1.9v1.4h-1.9zM540.0 865.3h1.9v1.4h-1.9zM580.8 873.7h1.9v1.4h-1.9zM581.5 879.3h1.9v1.4h-1.9zM423.8 825.0h1.9v1.4h-1.9zM366.1 919.3h1.9v1.4h-1.9z" fill="#476ca0"/>
</svg>
</body></html>
